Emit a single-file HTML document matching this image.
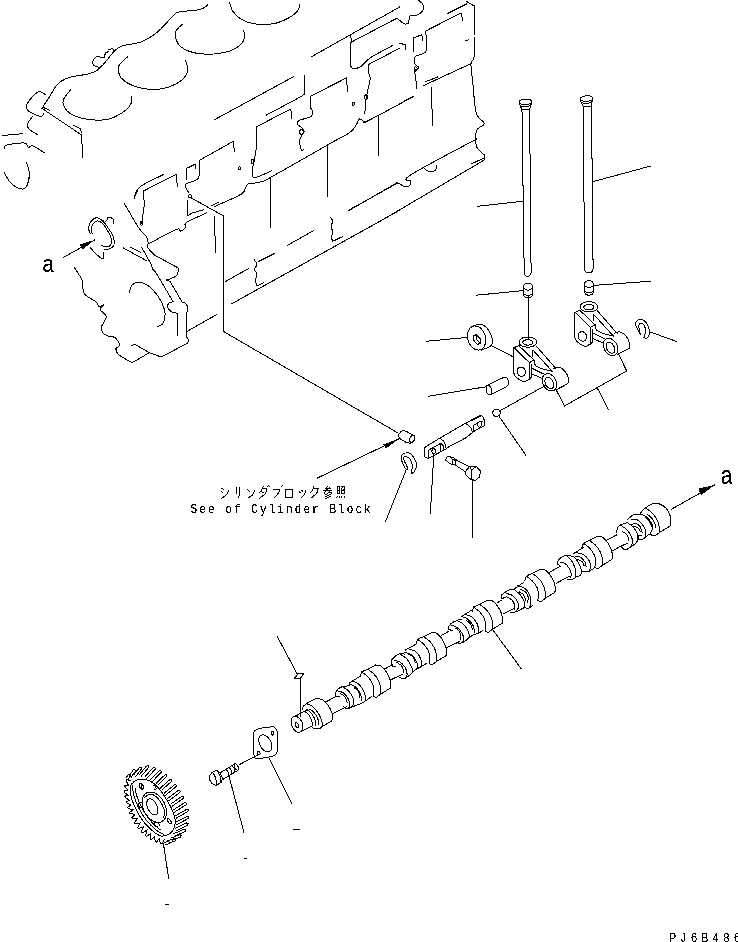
<!DOCTYPE html>
<html><head><meta charset="utf-8"><title>Camshaft parts diagram</title>
<style>
html,body{margin:0;padding:0;background:#fff;}
body{width:738px;height:942px;overflow:hidden;font-family:"Liberation Sans",sans-serif;}
svg{display:block;position:absolute;left:0;top:0;}
text{font-family:"Liberation Sans",sans-serif;fill:#000;}
.mono{font-family:"Liberation Mono",monospace;}
</style></head><body>
<svg width="738" height="942" viewBox="0 0 738 942" shape-rendering="crispEdges">
<g fill="none" stroke="#000" stroke-width="1" stroke-linecap="square" stroke-linejoin="miter">
<path d="M207.6 5 C206.3 5.8 204.8 8.3 200 9.5 C195.2 10.7 183.5 10.9 179 12 C174.5 13.1 176.7 12.6 173 16 C169.3 19.4 162.3 28.2 157 32.5 C151.7 36.8 146.8 39.8 141 42 C135.2 44.2 126.5 44.4 122 46 C117.5 47.6 117 48.5 114 51.5 C111 54.5 106.8 60.6 104 63.7 C101.2 66.8 99.9 68.3 97.5 70 C95.1 71.7 93.9 72.5 89.4 73.7 C84.9 74.9 75.2 75.9 70.5 77.2 C65.8 78.5 63.5 79.7 61 81.3 C58.5 82.9 57.3 84.2 55.5 86.7 C53.7 89.2 51.8 93.1 50 96 C48.2 98.9 46 101.9 44.7 104 C43.4 106.1 42.5 107.7 42 108.4"/>
<path d="M42 108.4 L81.6 135 L82.6 157.4"/>
<path d="M43.5 107.6 L49.7 110.2"/>
<path d="M73 125 L80.6 128.8 L81.2 132.4"/>
<path d="M104 57.5 C102.7 57.4 97.8 56.4 96 57 C94.2 57.6 93.4 59.7 93 61 C92.6 62.3 92.5 64 93.5 65 C94.5 66 97.4 67.2 99 67.2 C100.6 67.2 102.3 65.4 103 65"/>
<path d="M108.5 49.8 C109.2 49.6 111.6 48.5 112.5 48.8 C113.4 49.1 113.8 51 114 51.5"/>
<path d="M104 57.5 L105.5 53 L108.5 51.5"/>
<path d="M46 95 C44.7 94.5 41.2 90.5 38 92 C34.8 93.5 28.6 100.8 27 104 C25.4 107.2 26.2 108.9 28.5 111 C30.8 113.1 38.1 116 40.6 116.5 C43.1 117 42.9 114.2 43.4 113.8"/>
<path d="M32.5 116.5 C31.8 117.6 28.7 121 28 123 C27.3 125 26.8 126.7 28.5 128.7 C30.2 130.7 36.4 133.9 38 135"/>
<path d="M2.7 135.5 L23 133.6"/>
<path d="M4 149 C4.5 148.3 3.4 146 6.8 145 C10.2 144 20.8 142.6 24.4 143 C28 143.4 27.1 147.2 28.5 147.7 C29.9 148.2 29.8 144.9 32.5 145.8 C35.2 146.7 42.7 151.8 44.7 153"/>
<path d="M4 172 C5.1 173.8 7.9 180.2 10.8 183 C13.8 185.8 19 188.6 21.7 189 C24.4 189.4 25.7 188.2 27 185.6 C28.3 183 29.4 177.2 29.3 173.4 C29.2 169.6 27 164.4 26.5 162.6"/>
<path d="M70.5 90 C69.4 91.5 64.8 96.4 63.7 99 C62.6 101.6 62.6 103.2 63.7 105.7 C64.8 108.2 66.7 111.5 70.5 113.8 C74.3 116 80.4 118.3 86.7 119.2 C93 120.1 102.1 120.6 108.4 119.2 C114.7 117.8 120.9 113.7 124.7 111 C128.5 108.3 130.3 105.5 131.4 103 C132.5 100.5 131.1 97.2 131 96"/>
<path d="M127.4 57 C126 58.3 120.7 62.3 119.2 65 C117.8 67.7 117.8 70.3 118.7 73 C119.6 75.7 121 78.8 124.7 81.3 C128.4 83.8 135.1 86.7 141 88 C146.9 89.3 154.2 89.7 160 89 C165.8 88.3 171.7 86.2 176 84 C180.3 81.8 183.7 78.7 185.6 76 C187.5 73.3 187.5 70.3 187.5 67.8 C187.5 65.3 185.9 62.1 185.6 61"/>
<path d="M182 24.4 C181 25.5 177.1 28.7 176 31 C174.9 33.3 174.9 35.5 175.6 38 C176.3 40.5 177.7 43.8 180 46 C182.3 48.2 186.4 50.2 189.7 51.5 C193 52.8 196 53.3 200 53.7 C204 54.1 208.6 54.5 213.6 54 C218.6 53.5 225.3 52.5 229.8 51 C234.3 49.5 238.2 47.1 240.7 44.7 C243.2 42.3 244.2 39 244.7 36.6 C245.1 34.2 243.6 31.4 243.4 30.4"/>
<path d="M229.8 2.7 C230.2 4.1 230.7 8.1 232.5 10.8 C234.3 13.5 237.1 16.8 240.7 19 C244.3 21.2 248.6 23 254 23.8 C259.4 24.6 267.1 24.8 273 23.8 C278.9 22.8 285.3 19.8 289.4 17.6 C293.5 15.4 295.8 13.1 297.6 10.8 C299.4 8.5 299.6 5.1 300 4"/>
<path d="M214 120 L293.5 76.7"/>
<path d="M304.3 75.3 C304.3 78.1 305 88.4 304.3 92 C303.6 95.6 306.3 93.2 300 97 C293.7 100.8 272 112 266.4 115"/>
<path d="M311 57 L400 6.8"/>
<path d="M351.5 42 L397 18.2"/>
<path d="M350.6 35.2 L351.6 41.5"/>
<path d="M351 42 C351 46.1 349.5 62.3 351 66.5 C352.5 70.7 356.8 68.4 360 67 C363.2 65.6 364.6 61.6 370 58 C375.4 54.4 388.8 47.6 392.5 45.5"/>
<path d="M368.5 64.5 L400 48"/>
<path d="M369 64.5 C369 66.1 368.8 71.7 369 74 C369.2 76.3 370.4 76 370.2 78.6 C370 81.2 368.7 85.8 368 89.4 C367.3 93 366.5 95.9 366 100 C365.5 104.1 365 111.5 364.8 113.8"/>
<path d="M367.5 97.3 C367.4 97.5 367.4 97.7 367.3 97.9 C367.2 98.1 367.2 98.3 367.1 98.5 C367 98.6 366.9 98.8 366.7 98.9 C366.6 99.1 366.5 99.2 366.4 99.3 C366.2 99.3 366.1 99.4 366 99.4 C365.8 99.5 365.7 99.5 365.6 99.5 C365.4 99.4 365.3 99.4 365.2 99.3 C365.1 99.2 365 99.1 364.9 99 C364.8 98.9 364.7 98.7 364.6 98.6 C364.6 98.4 364.5 98.2 364.5 98 C364.5 97.8 364.5 97.6 364.5 97.4 C364.5 97.2 364.5 97 364.5 96.7 C364.6 96.5 364.6 96.3 364.7 96.1 C364.8 95.9 364.8 95.7 364.9 95.5 C365 95.4 365.1 95.2 365.3 95.1 C365.4 94.9 365.5 94.8 365.6 94.7 C365.8 94.7 365.9 94.6 366 94.6 C366.2 94.5 366.3 94.5 366.4 94.5 C366.6 94.6 366.7 94.6 366.8 94.7 C366.9 94.8 367 94.9 367.1 95 C367.2 95.1 367.3 95.3 367.4 95.4 C367.4 95.6 367.5 95.8 367.5 96 C367.5 96.2 367.5 96.4 367.5 96.6 C367.5 96.8 367.5 97 367.5 97.3Z"/>
<path d="M354.6 103.8 C354.6 103.9 354.6 104.1 354.6 104.2 C354.5 104.3 354.5 104.4 354.4 104.5 C354.4 104.7 354.3 104.8 354.2 104.9 C354.1 105 354 105 353.9 105.1 C353.9 105.2 353.7 105.2 353.6 105.2 C353.5 105.3 353.4 105.3 353.3 105.3 C353.2 105.3 353.1 105.3 353 105.2 C352.9 105.2 352.7 105.2 352.7 105.1 C352.6 105 352.5 105 352.4 104.9 C352.3 104.8 352.2 104.7 352.2 104.5 C352.1 104.4 352.1 104.3 352 104.2 C352 104.1 352 103.9 352 103.8 C352 103.7 352 103.5 352 103.4 C352.1 103.3 352.1 103.2 352.2 103 C352.2 102.9 352.3 102.8 352.4 102.7 C352.5 102.6 352.6 102.6 352.7 102.5 C352.7 102.4 352.9 102.4 353 102.4 C353.1 102.3 353.2 102.3 353.3 102.3 C353.4 102.3 353.5 102.3 353.6 102.4 C353.7 102.4 353.9 102.4 353.9 102.5 C354 102.6 354.1 102.6 354.2 102.7 C354.3 102.8 354.4 102.9 354.4 103 C354.5 103.2 354.5 103.3 354.6 103.4 C354.6 103.5 354.6 103.7 354.6 103.8Z"/>
<path d="M310.6 96.2 L346.3 78 L347.7 91"/>
<path d="M310.6 96.2 C310.6 98 310.3 104.5 310.6 107 C310.9 109.5 312.4 109.4 312.5 111 C312.6 112.6 313.2 114.9 311 116.5 C308.8 118.1 301.2 119.2 299 120.6 C296.8 122 297.6 123.6 298 124.7 C298.4 125.8 300.6 126.3 301.6 127.4 C302.7 128.5 304.3 130.1 304.3 131.4 C304.3 132.8 302.4 133.9 301.6 135.5 C300.8 137.1 299.7 138.5 299.7 141 C299.7 143.5 300.9 149.1 301.6 150.4 C302.3 151.7 303.4 149.2 303.8 149"/>
<path d="M303.5 132 C303.5 132.2 303.5 132.4 303.4 132.6 C303.4 132.9 303.3 133.1 303.2 133.2 C303.1 133.4 303 133.6 302.9 133.8 C302.8 133.9 302.6 134.1 302.5 134.2 C302.4 134.3 302.2 134.4 302 134.4 C301.9 134.5 301.7 134.5 301.5 134.5 C301.3 134.5 301.1 134.5 301 134.4 C300.8 134.4 300.6 134.3 300.5 134.2 C300.4 134.1 300.2 133.9 300.1 133.8 C300 133.6 299.9 133.4 299.8 133.2 C299.7 133.1 299.6 132.9 299.6 132.6 C299.5 132.4 299.5 132.2 299.5 132 C299.5 131.8 299.5 131.6 299.6 131.4 C299.6 131.1 299.7 130.9 299.8 130.8 C299.9 130.6 300 130.4 300.1 130.2 C300.2 130.1 300.4 129.9 300.5 129.8 C300.6 129.7 300.8 129.6 301 129.6 C301.1 129.5 301.3 129.5 301.5 129.5 C301.7 129.5 301.9 129.5 302 129.6 C302.2 129.6 302.4 129.7 302.5 129.8 C302.6 129.9 302.8 130.1 302.9 130.2 C303 130.4 303.1 130.6 303.2 130.8 C303.3 130.9 303.4 131.1 303.4 131.4 C303.5 131.6 303.5 131.8 303.5 132Z"/>
<path d="M256.4 126.8 L290.8 109 L291.6 118"/>
<path d="M256.4 126.8 C256.4 130.1 256.8 140.8 256.4 146.3 C256 151.8 254.8 156.4 254.2 160 C253.6 163.6 252.8 165.1 252.8 168 C252.8 170.9 251 177.1 254.2 177.5 C257.4 177.9 268.9 171.8 271.8 170.7"/>
<path d="M254.1 161.5 C254.1 161.7 254.1 161.9 254 162.1 C254 162.4 254 162.6 253.9 162.8 C253.8 162.9 253.8 163.1 253.7 163.3 C253.6 163.4 253.5 163.6 253.3 163.7 C253.2 163.8 253.1 163.9 253 163.9 C252.9 164 252.7 164 252.6 164 C252.5 164 252.3 164 252.2 163.9 C252.1 163.9 252 163.8 251.8 163.7 C251.7 163.6 251.6 163.4 251.5 163.3 C251.4 163.1 251.4 162.9 251.3 162.8 C251.2 162.6 251.2 162.4 251.2 162.1 C251.1 161.9 251.1 161.7 251.1 161.5 C251.1 161.3 251.1 161.1 251.2 160.9 C251.2 160.6 251.2 160.4 251.3 160.2 C251.4 160.1 251.4 159.9 251.5 159.7 C251.6 159.6 251.7 159.4 251.8 159.3 C252 159.2 252.1 159.1 252.2 159.1 C252.3 159 252.5 159 252.6 159 C252.7 159 252.9 159 253 159.1 C253.1 159.1 253.2 159.2 253.3 159.3 C253.5 159.4 253.6 159.6 253.7 159.7 C253.8 159.9 253.8 160.1 253.9 160.2 C254 160.4 254 160.6 254 160.9 C254.1 161.1 254.1 161.3 254.1 161.5Z"/>
<path d="M240.6 168.3 C240.6 168.4 240.6 168.6 240.6 168.7 C240.5 168.8 240.5 168.9 240.4 169.1 C240.4 169.2 240.3 169.3 240.2 169.4 C240.1 169.5 240 169.5 240 169.6 C239.9 169.7 239.7 169.7 239.6 169.7 C239.5 169.8 239.4 169.8 239.3 169.8 C239.2 169.8 239.1 169.8 239 169.7 C238.9 169.7 238.7 169.7 238.7 169.6 C238.6 169.5 238.5 169.5 238.4 169.4 C238.3 169.3 238.2 169.2 238.2 169.1 C238.1 168.9 238.1 168.8 238 168.7 C238 168.6 238 168.4 238 168.3 C238 168.2 238 168 238 167.9 C238.1 167.8 238.1 167.7 238.2 167.6 C238.2 167.4 238.3 167.3 238.4 167.2 C238.5 167.1 238.6 167.1 238.7 167 C238.7 166.9 238.9 166.9 239 166.9 C239.1 166.8 239.2 166.8 239.3 166.8 C239.4 166.8 239.5 166.8 239.6 166.9 C239.7 166.9 239.9 166.9 240 167 C240 167.1 240.1 167.1 240.2 167.2 C240.3 167.3 240.4 167.4 240.4 167.6 C240.5 167.7 240.5 167.8 240.6 167.9 C240.6 168 240.6 168.2 240.6 168.3Z"/>
<path d="M186.4 179.8 L186.4 168.5 L195 164.3 L195.9 168.5"/>
<path d="M200 160 L233 141.5 L234.7 151.8"/>
<path d="M199.7 160 C199.7 162.3 200.2 170.8 199.7 174.1 C199.2 177.4 199 178.2 196.8 179.8 C194.6 181.4 188.3 182.3 186.4 183.6 C184.5 184.9 185 185.8 185.5 187.4 C186 189 188.6 192.2 189.2 193.1"/>
<path d="M191.6 196.2 C191.6 196.4 191.6 196.5 191.5 196.7 C191.5 196.8 191.5 197 191.4 197.1 C191.3 197.2 191.2 197.4 191.1 197.5 C191 197.6 190.9 197.7 190.8 197.8 C190.7 197.8 190.5 197.9 190.4 197.9 C190.3 198 190.1 198 190 198 C189.9 198 189.7 198 189.6 197.9 C189.5 197.9 189.3 197.8 189.2 197.8 C189.1 197.7 189 197.6 188.9 197.5 C188.8 197.4 188.7 197.2 188.6 197.1 C188.5 197 188.5 196.8 188.5 196.7 C188.4 196.5 188.4 196.4 188.4 196.2 C188.4 196 188.4 195.9 188.5 195.7 C188.5 195.6 188.5 195.4 188.6 195.3 C188.7 195.2 188.8 195 188.9 194.9 C189 194.8 189.1 194.7 189.2 194.6 C189.3 194.6 189.5 194.5 189.6 194.5 C189.7 194.4 189.9 194.4 190 194.4 C190.1 194.4 190.3 194.4 190.4 194.5 C190.5 194.5 190.7 194.6 190.8 194.6 C190.9 194.7 191 194.8 191.1 194.9 C191.2 195 191.3 195.2 191.4 195.3 C191.5 195.4 191.5 195.6 191.5 195.7 C191.6 195.9 191.6 196 191.6 196.2Z"/>
<path d="M187.3 200.7 L187.3 215.9 L192.1 213 L203.5 209.8"/>
<path d="M134.2 198.8 C134.5 197.7 134.8 194.4 136.1 192.2 C137.4 190 137.2 188.4 141.8 185.5 C146.4 182.6 160 176.3 163.6 174.5"/>
<path d="M143.1 191.2 C143.2 192.2 143.6 195.3 143.8 197.5 C144 199.7 144.3 201.8 144.2 204.6 C144.1 207.3 143.4 211.3 143 214 C142.6 216.7 142.4 219.2 142 221 C141.6 222.8 141 223.9 140.8 224.5"/>
<path d="M143.1 191.2 L176 174.5 L177.5 186.5"/>
<path d="M142.6 223.3 C142.6 223.5 142.6 223.6 142.6 223.8 C142.5 223.9 142.5 224.1 142.4 224.2 C142.4 224.3 142.3 224.5 142.2 224.6 C142.1 224.7 142 224.8 142 224.9 C141.9 224.9 141.7 225 141.6 225 C141.5 225.1 141.4 225.1 141.3 225.1 C141.2 225.1 141.1 225.1 141 225 C140.9 225 140.7 224.9 140.7 224.9 C140.6 224.8 140.5 224.7 140.4 224.6 C140.3 224.5 140.2 224.3 140.2 224.2 C140.1 224.1 140.1 223.9 140 223.8 C140 223.6 140 223.5 140 223.3 C140 223.1 140 223 140 222.8 C140.1 222.7 140.1 222.5 140.2 222.4 C140.2 222.3 140.3 222.1 140.4 222 C140.5 221.9 140.6 221.8 140.7 221.7 C140.7 221.7 140.9 221.6 141 221.6 C141.1 221.5 141.2 221.5 141.3 221.5 C141.4 221.5 141.5 221.5 141.6 221.6 C141.7 221.6 141.9 221.7 142 221.7 C142 221.8 142.1 221.9 142.2 222 C142.3 222.1 142.4 222.3 142.4 222.4 C142.5 222.5 142.5 222.7 142.6 222.8 C142.6 223 142.6 223.1 142.6 223.3Z"/>
<path d="M149.4 243.4 C153.8 241.1 170.8 231.6 176 229.5 C181.2 227.4 179.1 231.4 180.7 231 C182.3 230.6 184.6 228.7 185.5 227.3 C186.4 225.9 182.9 224.9 186.4 222.5 C189.9 220.1 203 214.6 206.3 213"/>
<path d="M212 205.5 L218.6 202.2"/>
<path d="M214.9 206.4 C219.3 204.3 236 197.6 241.4 194 C246.8 190.4 245.2 186.4 247.1 184.6 C249 182.8 250.7 183.7 252.8 183.3 C255 182.9 257.1 183 260 182 C262.9 181 259.3 183.7 270.5 177.5 C281.7 171.3 314.3 152.4 327.4 145 C340.5 137.6 344.3 136.2 349 133 C353.7 129.8 353.9 128.3 355.6 126 C357.4 123.7 358.1 119.8 359.5 119 C360.9 118.2 362.4 121.1 363.8 121.4 C365.2 121.7 359.9 124.9 368.2 120.7 C376.5 116.5 406.1 100.5 413.7 96.4"/>
<path d="M270.5 177.5 L270.5 227.2"/>
<path d="M327.4 145 L327.4 196.6"/>
<path d="M378.6 116.8 L378.6 155.4"/>
<path d="M214.3 217 L215.6 252.5"/>
<path d="M191.5 198 L223.2 215.8 L223.2 331.3 L398 433"/>
<path d="M225.7 281.4 L248.8 268.4"/>
<path d="M258.3 261.6 L274.5 253.5"/>
<path d="M287.3 245.4 L313.8 230.5"/>
<path d="M349 210 L397.8 183"/>
<path d="M254.2 259.7 C254.7 260.5 257 262.6 257 264.3 C257 266 254.2 268.2 254.2 269.8 C254.2 271.4 256.8 272 257 273.8 C257.2 275.6 255.6 278.6 255.6 280.6 C255.6 282.6 256.8 285.1 257 286"/>
<path d="M257 286 L263.7 282.5"/>
<path d="M330 217 C330.5 217.7 332.6 219.4 332.8 221 C333 222.6 331 224.6 331 226.4 C331 228.2 332.7 230 332.8 231.8 C332.9 233.6 331.4 235.6 331.4 237.2 C331.4 238.8 332.6 240.6 332.8 241.3"/>
<path d="M332.8 241.3 L342.3 236.7"/>
<path d="M232 303.6 L400 210"/>
<path d="M186.8 331.5 L216.8 314.5"/>
<path d="M397 18.2 C397.6 18.7 399.3 20.1 400.5 21 C401.7 21.9 402.7 23.5 404 23.8 C405.3 24.1 407.6 24.1 408.5 23 C409.4 21.9 408.8 18.3 409.3 17 C409.8 15.7 410.2 15.6 411.5 15.3 C412.8 15 415.2 15.7 417 15 C418.8 14.3 421.5 12.7 422.5 11 C423.5 9.3 423.7 6.5 423 4.7 C422.3 2.9 419.2 0.8 418.5 0"/>
<path d="M447.4 13.6 L466.4 4"/>
<path d="M425.7 31 L461 13 L463 21"/>
<path d="M425.7 31 C425.8 34.2 427.2 46.2 426.5 50 C425.8 53.8 423.6 52.8 421.7 54 C419.8 55.2 416.1 55.4 415 57 C413.9 58.6 414.3 61.9 415 63.7 C415.7 65.5 419 66.7 419 67.8 C419 68.9 415.6 68.7 415 70.5 C414.4 72.3 415.4 75.7 415.7 78.6 C416 81.5 416.6 86.4 416.8 88"/>
<path d="M417.2 69 C417.2 69.2 417.2 69.4 417.1 69.6 C417.1 69.8 417.1 69.9 417 70.1 C416.9 70.3 416.9 70.4 416.8 70.6 C416.7 70.7 416.6 70.8 416.4 70.9 C416.3 71 416.2 71.1 416.1 71.1 C416 71.2 415.8 71.2 415.7 71.2 C415.6 71.2 415.4 71.2 415.3 71.1 C415.2 71.1 415.1 71 414.9 70.9 C414.8 70.8 414.7 70.7 414.6 70.6 C414.5 70.4 414.5 70.3 414.4 70.1 C414.3 69.9 414.3 69.8 414.3 69.6 C414.2 69.4 414.2 69.2 414.2 69 C414.2 68.8 414.2 68.6 414.3 68.4 C414.3 68.2 414.3 68.1 414.4 67.9 C414.5 67.7 414.5 67.6 414.6 67.4 C414.7 67.3 414.8 67.2 414.9 67.1 C415.1 67 415.2 66.9 415.3 66.9 C415.4 66.8 415.6 66.8 415.7 66.8 C415.8 66.8 416 66.8 416.1 66.9 C416.2 66.9 416.3 67 416.4 67.1 C416.6 67.2 416.7 67.3 416.8 67.4 C416.9 67.6 416.9 67.7 417 67.9 C417.1 68.1 417.1 68.2 417.1 68.4 C417.2 68.6 417.2 68.8 417.2 69Z"/>
<path d="M413.5 51.5 L413.5 38 L421.7 34.7 L423 40.6"/>
<path d="M400 43.4 L405.4 44.7 L406 50"/>
<path d="M465 41 L468.3 40"/>
<path d="M423.5 85.6 L471.2 63.5"/>
<path d="M425.6 81.7 L437.6 77"/>
<path d="M431 87 L432.8 125"/>
<path d="M400 103.5 L413.6 96.2"/>
<path d="M466.4 1.4 C467.5 2.1 471.6 3.8 473 5.4 C474.4 7 474.2 2.7 474.5 10.8 C474.8 18.9 475.1 45.2 474.5 54 C473.9 62.8 471.3 59.1 471 63.7 C470.7 68.3 471.9 74 472.7 81.7 C473.4 89.4 474.5 103.9 475.5 109.9 C476.5 115.9 477.4 115.2 478.8 117.5 C480.2 119.8 484.6 121.8 484.2 124 C483.8 126.2 477.9 126.7 476.6 130.5 C475.3 134.3 475.2 142.5 476.6 146.7 C478 150.8 483.4 153.9 484.8 155.4"/>
<path d="M484.8 155.4 L484.8 159.7 L382.3 220 L232 303.6"/>
<path d="M476.6 139 C465.6 145 421.4 167.9 410.5 175 C399.6 182.1 411.1 179.6 411 181.4 C410.9 183.2 410.8 184.8 409.8 185.7 C408.8 186.6 407.1 187.3 405 186.8 C402.9 186.3 398.8 183.2 397.5 182.5"/>
<path d="M397.5 182.5 L348.7 210.7"/>
<path d="M423.5 167.7 C424.2 168.2 426.2 170.3 427.8 171 C429.4 171.7 431.8 172.1 433.2 171.7 C434.6 171.3 435.9 169.5 436.5 168.4 C437.1 167.3 436.5 165.6 436.5 165"/>
<path d="M471.2 164 L484.8 157.6"/>
<path d="M90.2 233.3 C89.9 232.5 88.5 230.4 88.6 228.5 C88.7 226.6 89.4 223.8 90.7 222 C92 220.2 94.5 217.9 96.4 217.6 C98.3 217.3 100 218.5 102 220.3 C104 222.1 106.7 225.7 108.6 228.5 C110.5 231.3 112.6 234.7 113.5 237.4 C114.4 240.1 114.5 242.8 114 244.7 C113.5 246.6 111.8 248 110.2 248.8 C108.6 249.6 105.5 249.5 104.6 249.6"/>
<path d="M92.4 234 C92.2 233.2 91.1 231 91.2 229.3 C91.3 227.6 92.2 225.4 93.2 224 C94.2 222.6 95.7 221.2 97.2 221 C98.7 220.8 100.2 221.3 102 223 C103.8 224.7 106.2 228.3 107.8 231 C109.4 233.7 110.9 236.8 111.4 239 C111.9 241.2 111.6 242.9 111 244.2 C110.4 245.5 109.4 246.5 107.8 246.7 C106.2 246.9 102.4 245.7 101.3 245.5"/>
<path d="M102 220.3 C102.7 220.4 105.1 221.6 106.2 221 C107.3 220.4 107.4 217.2 108.6 217 C109.8 216.8 112.6 218.4 113.5 219.5 C114.4 220.6 113.9 222.9 114 223.6"/>
<path d="M90.2 247.5 C91.1 248.5 93.6 251.9 95.6 253.7 C97.6 255.5 100.7 257.9 102 258.5 C103.3 259.1 103.4 257.9 103.7 257 C104 256.1 103.7 253.5 103.7 252.8"/>
<path d="M63.9 257.2 L94.8 239.8"/>
<path d="M74.6 268 C75.8 270 80.4 275.9 82 280.2 C83.6 284.5 82 290 84.4 293.7 C86.8 297.4 94.2 300 96.6 302.2 C99 304.4 97.8 306.6 99 307 C100.2 307.4 103.8 304.2 104 304.6 C104.2 305 99.8 307.5 100.2 309.5 C100.6 311.5 106.1 313.9 106.3 316.8 C106.5 319.7 102.1 324 101.5 326.6 C100.9 329.2 101.5 331.1 102.7 332.7 C103.9 334.3 106.8 335.5 108.8 336.3 C110.8 337.1 113.1 336.2 114.9 337.6 C116.7 339 119.6 343.1 119.8 344.9 C120 346.7 116.2 346.9 116 348.5 C115.8 350.1 115.8 352.2 118.5 354.6 C121.2 357 129.8 361.4 132 362.7"/>
<path d="M132 362.7 L149.4 352.7 L134.2 344 L131 346.2"/>
<path d="M149.4 352.7 L161.3 357 L187.8 343"/>
<path d="M187.8 343 C187.9 342.4 188.7 340.8 188.4 339.7 C188.1 338.6 186.6 337 186.2 336.5"/>
<path d="M186.2 336.5 L186.2 313.7"/>
<path d="M186.2 313.7 C186.5 313 187.8 311 187.8 309.4 C187.8 307.8 187.2 305.3 186.2 304 C185.2 302.7 182.6 302.2 181.9 301.8"/>
<path d="M173.2 301.8 C172.5 302 169.8 302 168.9 302.9 C168 303.8 167.5 305.8 167.8 307.2 C168.2 308.6 169.7 310.6 171 311.5 C172.3 312.4 174.4 312.2 175.4 312.6 C176.4 313 176.8 313.5 177.1 313.7"/>
<path d="M177.1 313.7 L177.1 335.4"/>
<path d="M129.5 292.4 C129.9 291.2 130.4 286.7 132 285 C133.6 283.3 136.5 282 139.3 282.2 C142.1 282.4 145.8 283.8 149 286.3 C152.2 288.8 156.2 293.4 158.8 297.3 C161.4 301.2 163.4 306.1 164.4 309.5 C165.4 312.9 165.2 315.6 164.9 318 C164.6 320.4 163.6 322.6 162.4 324 C161.2 325.4 158.4 326.2 157.6 326.6"/>
<path d="M124.6 204 C127 208 135.3 222.7 139 228.2 C142.7 233.7 145.1 234.3 146.6 236.8 C148.1 239.3 148 241.9 148.1 243.4 C148.2 244.9 147 244.9 147.2 246 C147.4 247.1 148.1 248.3 149.4 249.8 C150.7 251.3 153.9 254.3 154.8 255.2"/>
<path d="M154.8 255.2 L178.6 268.2"/>
<path d="M178.6 268.2 C178.2 269.5 178.5 273.8 176.5 275.8 C174.5 277.8 168.3 279.4 166.7 280.1"/>
<path d="M166.7 280.1 L170 281.2 L181.9 301.8"/>
<path d="M141.8 247.6 L151.5 264.9 L152.6 269.3 L155.9 272.5 L173.2 301.8"/>
<path d="M123.4 248 L146.6 260.7"/>
<path d="M130.7 247.3 L140.5 252.2"/>
<path d="M134.4 197.3 L138 190"/>
<path d="M531.7 101.6 C531.7 101.8 531.6 102.1 531.5 102.3 C531.4 102.5 531.2 102.8 530.9 103 C530.7 103.2 530.3 103.5 530 103.6 C529.6 103.8 529.1 104 528.7 104.2 C528.2 104.3 527.7 104.4 527.2 104.5 C526.6 104.6 526.1 104.7 525.5 104.7 C525 104.7 524.4 104.7 523.9 104.7 C523.4 104.7 522.9 104.6 522.4 104.5 C521.9 104.4 521.4 104.3 521.1 104.1 C520.7 104 520.3 103.8 520 103.6 C519.7 103.4 519.5 103.2 519.4 102.9 C519.2 102.7 519.1 102.5 519.1 102.2 C519.1 102 519.2 101.7 519.3 101.5 C519.4 101.3 519.6 101 519.9 100.8 C520.1 100.6 520.5 100.3 520.8 100.2 C521.2 100 521.7 99.8 522.1 99.6 C522.6 99.5 523.1 99.4 523.6 99.3 C524.2 99.2 524.7 99.1 525.3 99.1 C525.8 99.1 526.4 99.1 526.9 99.1 C527.4 99.1 527.9 99.2 528.4 99.3 C528.9 99.4 529.4 99.5 529.7 99.7 C530.1 99.8 530.5 100 530.8 100.2 C531.1 100.4 531.3 100.6 531.4 100.9 C531.6 101.1 531.7 101.3 531.7 101.6Z"/>
<path d="M519.2 102.5 C519.3 103 519.4 104.6 520 105.3 C520.6 106 521.8 106.5 522.9 106.7 C524 106.9 525.6 107 526.9 106.7 C528.2 106.4 529.8 105.9 530.6 105.1 C531.4 104.3 531.4 102.6 531.6 102.1"/>
<path d="M520.2 105.5 L522 110"/>
<path d="M530.6 105.1 L529.6 109.4"/>
<path d="M522 110 L529.6 109.4"/>
<path d="M522 110 L524.2 272"/>
<path d="M529.6 109.4 L531.1 272"/>
<path d="M524.2 272 C524.3 272.5 524.4 274.3 525 275 C525.6 275.7 526.8 276.3 527.7 276.3 C528.5 276.3 529.7 275.7 530.3 275 C530.9 274.3 531 272.5 531.1 272"/>
<path d="M592.9 98.3 C592.9 98.5 592.8 98.8 592.7 99 C592.6 99.2 592.4 99.5 592.1 99.7 C591.9 99.9 591.5 100.2 591.2 100.3 C590.8 100.5 590.3 100.7 589.9 100.9 C589.4 101 588.9 101.1 588.4 101.2 C587.8 101.3 587.3 101.4 586.7 101.4 C586.2 101.4 585.6 101.4 585.1 101.4 C584.6 101.4 584.1 101.3 583.6 101.2 C583.1 101.1 582.6 101 582.3 100.8 C581.9 100.7 581.5 100.5 581.2 100.3 C580.9 100.1 580.7 99.9 580.6 99.6 C580.4 99.4 580.3 99.2 580.3 98.9 C580.3 98.7 580.4 98.4 580.5 98.2 C580.6 98 580.8 97.7 581.1 97.5 C581.3 97.3 581.7 97 582 96.9 C582.4 96.7 582.9 96.5 583.3 96.3 C583.8 96.2 584.3 96.1 584.8 96 C585.4 95.9 585.9 95.8 586.5 95.8 C587 95.8 587.6 95.8 588.1 95.8 C588.6 95.8 589.1 95.9 589.6 96 C590.1 96.1 590.6 96.2 590.9 96.4 C591.3 96.5 591.7 96.7 592 96.9 C592.3 97.1 592.5 97.3 592.6 97.6 C592.8 97.8 592.9 98 592.9 98.3Z"/>
<path d="M580.4 99.2 C580.5 99.7 580.6 101.3 581.2 102 C581.8 102.7 583 103.2 584.1 103.4 C585.2 103.6 586.8 103.7 588.1 103.4 C589.4 103.1 591 102.6 591.8 101.8 C592.6 101 592.6 99.3 592.8 98.8"/>
<path d="M581.4 102.2 L583.3 106.6"/>
<path d="M591.8 101.8 L591.5 106"/>
<path d="M583.3 106.6 L591.5 106"/>
<path d="M583.3 106.6 L584.5 268.5"/>
<path d="M591.5 106 L593.1 268.5"/>
<path d="M584.5 268.5 C584.6 269 584.6 270.8 585.3 271.5 C586 272.2 587.6 272.8 588.8 272.8 C590 272.8 591.6 272.2 592.3 271.5 C593 270.8 593 269 593.1 268.5"/>
<path d="M477 206.3 L523.6 201.2"/>
<path d="M592.4 181.8 L650.8 166"/>
<path d="M523.4 288 C523.6 287.4 523.6 285.3 524.4 284.5 C525.2 283.7 526.8 283.1 528 283.1 C529.2 283.1 530.8 283.7 531.6 284.5 C532.4 285.3 532.4 287.4 532.6 288"/>
<path d="M523.4 288 L523.4 295"/>
<path d="M532.6 288 L532.6 295"/>
<path d="M523.4 295 C523.7 295.3 524.2 296.5 525 297 C525.8 297.5 527 297.8 528 297.8 C529 297.8 530.2 297.5 531 297 C531.8 296.5 532.3 295.3 532.6 295"/>
<path d="M523.8 288.6 C524.5 288.9 526.6 290.2 528 290.2 C529.4 290.2 531.5 288.9 532.2 288.6"/>
<path d="M523.4 294 C524.2 294.3 526.5 295.6 528 295.6 C529.5 295.6 531.8 294.3 532.6 294"/>
<path d="M584.4 285.4 C584.6 284.8 584.6 282.7 585.4 281.9 C586.2 281.1 587.8 280.5 589 280.5 C590.2 280.5 591.8 281.1 592.6 281.9 C593.4 282.7 593.4 284.8 593.6 285.4"/>
<path d="M584.4 285.4 L584.4 292.4"/>
<path d="M593.6 285.4 L593.6 292.4"/>
<path d="M584.4 292.4 C584.7 292.7 585.2 293.9 586 294.4 C586.8 294.9 588 295.2 589 295.2 C590 295.2 591.2 294.9 592 294.4 C592.8 293.9 593.3 292.7 593.6 292.4"/>
<path d="M584.8 286 C585.5 286.3 587.6 287.6 589 287.6 C590.4 287.6 592.5 286.3 593.2 286"/>
<path d="M584.4 291.4 C585.2 291.7 587.5 293 589 293 C590.5 293 592.8 291.7 593.6 291.4"/>
<path d="M476.4 295.2 L523.2 290.6"/>
<path d="M593.8 285.4 L650.8 281.2"/>
<path d="M528.4 296.2 L528.4 338.6"/>
<path d="M485.1 335.6 C485.4 336.6 485.6 337.7 485.6 338.7 C485.7 339.8 485.7 340.8 485.6 341.8 C485.5 342.8 485.3 343.8 485 344.6 C484.7 345.5 484.3 346.3 483.8 347 C483.3 347.7 482.7 348.3 482.1 348.8 C481.4 349.3 480.7 349.6 480 349.8 C479.3 350 478.5 350.1 477.7 350 C476.9 350 476.1 349.8 475.3 349.5 C474.5 349.1 473.7 348.6 473 348.1 C472.3 347.5 471.6 346.8 471 346 C470.4 345.2 469.8 344.3 469.3 343.4 C468.8 342.5 468.4 341.4 468.1 340.4 C467.8 339.4 467.6 338.3 467.6 337.3 C467.5 336.2 467.5 335.2 467.6 334.2 C467.7 333.2 467.9 332.2 468.2 331.4 C468.5 330.5 468.9 329.7 469.4 329 C469.9 328.3 470.5 327.7 471.1 327.2 C471.8 326.7 472.5 326.4 473.2 326.2 C473.9 326 474.7 325.9 475.5 326 C476.3 326 477.1 326.2 477.9 326.5 C478.7 326.9 479.5 327.4 480.2 327.9 C480.9 328.5 481.6 329.2 482.2 330 C482.8 330.8 483.4 331.7 483.9 332.6 C484.4 333.5 484.8 334.6 485.1 335.6Z"/>
<path d="M473.6 325.9 C474.7 325.6 477.9 323.8 480 324 C482.1 324.2 484.2 325.2 486 327 C487.8 328.8 489.8 332.1 490.9 334.6 C492 337.1 492.6 340.3 492.5 342.2 C492.4 344.1 491.6 345 490.5 346 C489.4 347 486.8 348 486 348.4"/>
<path d="M486 348.4 L481.5 350"/>
<path d="M473 336.2 L476.3 334.6 L480 338.4 L480.6 343.3 L477.3 344.4 L473.6 340 L473 336.2"/>
<path d="M476.3 334.6 L476.6 339.6 L480.6 343.3"/>
<path d="M426 341.3 L467.6 337.4"/>
<path d="M491 345.4 L513.5 357"/>
<path d="M536.6 342.1 C536.6 342.5 536.5 343 536.3 343.4 C536.1 343.8 535.8 344.3 535.4 344.7 C535 345 534.6 345.4 534 345.7 C533.5 346 532.9 346.3 532.2 346.5 C531.5 346.7 530.8 346.9 530.1 347 C529.3 347.1 528.6 347.2 527.8 347.2 C527 347.2 526.3 347.1 525.5 347 C524.8 346.9 524.1 346.7 523.4 346.5 C522.7 346.3 522.1 346 521.6 345.7 C521 345.4 520.6 345 520.2 344.7 C519.8 344.3 519.5 343.8 519.3 343.4 C519.1 343 519 342.5 519 342.1 C519 341.7 519.1 341.2 519.3 340.8 C519.5 340.4 519.8 339.9 520.2 339.6 C520.6 339.2 521 338.8 521.6 338.5 C522.1 338.2 522.7 337.9 523.4 337.7 C524.1 337.5 524.8 337.3 525.5 337.2 C526.3 337.1 527 337 527.8 337 C528.6 337 529.3 337.1 530.1 337.2 C530.8 337.3 531.5 337.5 532.2 337.7 C532.9 337.9 533.5 338.2 534 338.5 C534.6 338.8 535 339.2 535.4 339.6 C535.8 339.9 536.1 340.4 536.3 340.8 C536.5 341.2 536.6 341.7 536.6 342.1Z"/>
<path d="M532.9 342.4 C532.9 342.6 532.8 342.9 532.7 343.1 C532.6 343.3 532.4 343.5 532.2 343.8 C532 344 531.7 344.1 531.4 344.3 C531.1 344.5 530.7 344.6 530.3 344.7 C530 344.9 529.5 344.9 529.1 345 C528.7 345.1 528.2 345.1 527.8 345.1 C527.4 345.1 526.9 345.1 526.5 345 C526.1 344.9 525.6 344.9 525.2 344.7 C524.9 344.6 524.5 344.5 524.2 344.3 C523.9 344.1 523.6 344 523.4 343.8 C523.2 343.5 523 343.3 522.9 343.1 C522.8 342.9 522.7 342.6 522.7 342.4 C522.7 342.2 522.8 341.9 522.9 341.7 C523 341.5 523.2 341.3 523.4 341 C523.6 340.8 523.9 340.7 524.2 340.5 C524.5 340.3 524.9 340.2 525.2 340.1 C525.6 339.9 526.1 339.9 526.5 339.8 C526.9 339.7 527.4 339.7 527.8 339.7 C528.2 339.7 528.7 339.7 529.1 339.8 C529.5 339.9 530 339.9 530.3 340.1 C530.7 340.2 531.1 340.3 531.4 340.5 C531.7 340.7 532 340.8 532.2 341 C532.4 341.3 532.6 341.5 532.7 341.7 C532.8 341.9 532.9 342.2 532.9 342.4Z"/>
<path d="M519.3 345.5 L513.6 347.8 L513.6 372.2"/>
<path d="M513.6 372.2 C513.8 372.8 514.2 374.7 515 375.8 C515.8 376.9 516.7 377.8 518.3 378.8 C519.9 379.8 522.5 381.7 524.4 381.7 C526.3 381.7 528.6 379.4 529.5 379"/>
<path d="M529.5 379.3 L529.5 362.7 L514.2 347.8"/>
<path d="M519.6 346.4 L533.9 360 L529.5 362.7"/>
<path d="M533.9 360 L534.5 360.6 L534.5 363.4"/>
<path d="M531.6 364.8 L531.6 377"/>
<path d="M529.5 379 L531.6 377"/>
<path d="M525.2 370.3 C525.3 370.7 525.4 371.1 525.4 371.5 C525.5 371.9 525.5 372.3 525.5 372.7 C525.4 373.1 525.3 373.5 525.2 373.9 C525.1 374.3 524.9 374.6 524.6 374.9 C524.4 375.2 524.2 375.5 523.9 375.7 C523.6 375.9 523.3 376.1 522.9 376.2 C522.6 376.3 522.2 376.4 521.9 376.4 C521.5 376.4 521.2 376.4 520.8 376.3 C520.4 376.2 520.1 376.1 519.7 375.9 C519.4 375.7 519.1 375.4 518.8 375.2 C518.5 374.9 518.2 374.6 518 374.2 C517.8 373.9 517.6 373.5 517.4 373.1 C517.3 372.7 517.2 372.3 517.2 371.9 C517.1 371.5 517.1 371.1 517.1 370.7 C517.2 370.3 517.3 369.9 517.4 369.5 C517.5 369.1 517.7 368.8 518 368.5 C518.2 368.2 518.4 367.9 518.7 367.7 C519 367.5 519.3 367.3 519.7 367.2 C520 367.1 520.4 367 520.7 367 C521.1 367 521.4 367 521.8 367.1 C522.2 367.2 522.5 367.3 522.9 367.5 C523.2 367.7 523.5 368 523.8 368.2 C524.1 368.5 524.4 368.8 524.6 369.2 C524.8 369.5 525 369.9 525.2 370.3Z"/>
<path d="M536.3 346.1 L556 368.7"/>
<path d="M533.2 350.4 L552.2 371.3"/>
<path d="M532.6 350 L532.6 356"/>
<path d="M534.5 363.4 C534.8 363.9 534.9 365.3 536.3 366.2 C537.7 367.1 540.3 368.1 543 369 C545.7 369.9 550.8 371 552.4 371.4"/>
<path d="M531.6 368 L543.2 373.8"/>
<path d="M531.6 373.8 L541.3 378"/>
<path d="M555.3 379.2 C555.7 379.9 556 380.7 556.2 381.4 C556.5 382.2 556.6 382.9 556.7 383.7 C556.8 384.4 556.8 385.2 556.7 385.9 C556.6 386.5 556.4 387.2 556.2 387.8 C555.9 388.4 555.6 388.9 555.2 389.3 C554.8 389.8 554.3 390.2 553.8 390.4 C553.3 390.7 552.7 390.9 552.2 390.9 C551.6 391 550.9 391 550.3 390.9 C549.7 390.8 549.1 390.5 548.4 390.2 C547.8 389.9 547.2 389.5 546.6 389 C546 388.6 545.5 388 545 387.4 C544.5 386.8 544 386.1 543.7 385.4 C543.3 384.7 543 383.9 542.8 383.2 C542.5 382.4 542.4 381.7 542.3 380.9 C542.2 380.2 542.2 379.4 542.3 378.7 C542.4 378.1 542.6 377.4 542.8 376.8 C543.1 376.2 543.4 375.7 543.8 375.3 C544.2 374.8 544.7 374.4 545.2 374.2 C545.7 373.9 546.3 373.7 546.8 373.7 C547.4 373.6 548.1 373.6 548.7 373.7 C549.3 373.8 549.9 374.1 550.6 374.4 C551.2 374.7 551.8 375.1 552.4 375.6 C553 376 553.5 376.6 554 377.2 C554.5 377.8 555 378.5 555.3 379.2Z"/>
<path d="M552.7 381.2 C552.9 381.7 553.1 382.2 553.3 382.6 C553.4 383.1 553.5 383.6 553.6 384.1 C553.7 384.6 553.7 385.1 553.7 385.5 C553.6 385.9 553.5 386.3 553.4 386.7 C553.3 387.1 553.1 387.4 552.9 387.7 C552.7 387.9 552.4 388.1 552.1 388.3 C551.8 388.5 551.5 388.5 551.2 388.6 C550.8 388.6 550.4 388.6 550.1 388.5 C549.7 388.4 549.3 388.2 548.9 388 C548.5 387.8 548.2 387.5 547.8 387.2 C547.4 386.9 547.1 386.5 546.8 386.1 C546.5 385.7 546.2 385.2 545.9 384.8 C545.7 384.3 545.5 383.8 545.3 383.4 C545.2 382.9 545.1 382.4 545 381.9 C544.9 381.4 544.9 380.9 544.9 380.5 C545 380.1 545.1 379.7 545.2 379.3 C545.3 378.9 545.5 378.6 545.7 378.3 C545.9 378.1 546.2 377.9 546.5 377.7 C546.8 377.5 547.1 377.5 547.4 377.4 C547.8 377.4 548.2 377.4 548.5 377.5 C548.9 377.6 549.3 377.8 549.7 378 C550.1 378.2 550.4 378.5 550.8 378.8 C551.2 379.1 551.5 379.5 551.8 379.9 C552.1 380.3 552.4 380.8 552.7 381.2Z"/>
<path d="M553.5 368.6 C553.9 368.4 554.6 367.8 555.6 367.6 C556.6 367.4 558 366.8 559.6 367.4 C561.2 368 563.5 369.7 565 371.5 C566.5 373.3 567.9 376.3 568.4 378.3 C568.9 380.3 567.9 382.8 567.8 383.7"/>
<path d="M567.8 383.7 L556.2 389.8"/>
<path d="M597.7 306.8 C597.7 307.2 597.6 307.7 597.4 308.1 C597.2 308.5 596.9 309 596.5 309.4 C596.1 309.7 595.7 310.1 595.1 310.4 C594.6 310.7 594 311 593.3 311.2 C592.6 311.4 591.9 311.6 591.2 311.7 C590.4 311.8 589.7 311.9 588.9 311.9 C588.1 311.9 587.4 311.8 586.6 311.7 C585.9 311.6 585.2 311.4 584.5 311.2 C583.8 311 583.2 310.7 582.7 310.4 C582.1 310.1 581.7 309.7 581.3 309.4 C580.9 309 580.6 308.5 580.4 308.1 C580.2 307.7 580.1 307.2 580.1 306.8 C580.1 306.4 580.2 305.9 580.4 305.5 C580.6 305.1 580.9 304.6 581.3 304.2 C581.7 303.9 582.1 303.5 582.7 303.2 C583.2 302.9 583.8 302.6 584.5 302.4 C585.2 302.2 585.9 302 586.6 301.9 C587.4 301.8 588.1 301.7 588.9 301.7 C589.7 301.7 590.4 301.8 591.2 301.9 C591.9 302 592.6 302.2 593.3 302.4 C594 302.6 594.6 302.9 595.1 303.2 C595.7 303.5 596.1 303.9 596.5 304.2 C596.9 304.6 597.2 305.1 597.4 305.5 C597.6 305.9 597.7 306.4 597.7 306.8Z"/>
<path d="M594 307.1 C594 307.3 593.9 307.6 593.8 307.8 C593.7 308 593.5 308.2 593.3 308.4 C593.1 308.7 592.8 308.8 592.5 309 C592.2 309.2 591.8 309.3 591.4 309.4 C591.1 309.6 590.6 309.6 590.2 309.7 C589.8 309.8 589.3 309.8 588.9 309.8 C588.5 309.8 588 309.8 587.6 309.7 C587.2 309.6 586.7 309.6 586.4 309.4 C586 309.3 585.6 309.2 585.3 309 C585 308.8 584.7 308.7 584.5 308.4 C584.3 308.2 584.1 308 584 307.8 C583.9 307.6 583.8 307.3 583.8 307.1 C583.8 306.9 583.9 306.6 584 306.4 C584.1 306.2 584.3 306 584.5 305.7 C584.7 305.5 585 305.4 585.3 305.2 C585.6 305 586 304.9 586.4 304.8 C586.7 304.6 587.2 304.6 587.6 304.5 C588 304.4 588.5 304.4 588.9 304.4 C589.3 304.4 589.8 304.4 590.2 304.5 C590.6 304.6 591.1 304.6 591.4 304.8 C591.8 304.9 592.2 305 592.5 305.2 C592.8 305.4 593.1 305.5 593.3 305.7 C593.5 306 593.7 306.2 593.8 306.4 C593.9 306.6 594 306.9 594 307.1Z"/>
<path d="M580.4 310.2 L574.7 312.5 L574.7 336.9"/>
<path d="M574.7 336.9 C574.9 337.5 575.3 339.4 576.1 340.5 C576.9 341.6 577.8 342.5 579.4 343.5 C581 344.5 583.6 346.4 585.5 346.4 C587.4 346.4 589.8 344.1 590.6 343.7"/>
<path d="M590.6 344 L590.6 327.4 L575.3 312.5"/>
<path d="M580.7 311.1 L595 324.7 L590.6 327.4"/>
<path d="M595 324.7 L595.6 325.3 L595.6 328.1"/>
<path d="M592.7 329.5 L592.7 341.7"/>
<path d="M590.6 343.7 L592.7 341.7"/>
<path d="M586.3 335 C586.4 335.4 586.5 335.8 586.5 336.2 C586.6 336.6 586.6 337 586.6 337.4 C586.5 337.8 586.4 338.2 586.3 338.6 C586.2 339 586 339.3 585.7 339.6 C585.5 339.9 585.3 340.2 585 340.4 C584.7 340.6 584.4 340.8 584 340.9 C583.7 341 583.3 341.1 583 341.1 C582.6 341.1 582.3 341.1 581.9 341 C581.5 340.9 581.2 340.8 580.8 340.6 C580.5 340.4 580.2 340.1 579.9 339.9 C579.6 339.6 579.3 339.3 579.1 338.9 C578.9 338.6 578.7 338.2 578.5 337.8 C578.4 337.4 578.3 337 578.3 336.6 C578.2 336.2 578.2 335.8 578.2 335.4 C578.3 335 578.4 334.6 578.5 334.2 C578.6 333.8 578.8 333.5 579.1 333.2 C579.3 332.9 579.5 332.6 579.8 332.4 C580.1 332.2 580.4 332 580.8 331.9 C581.1 331.8 581.5 331.7 581.8 331.7 C582.2 331.7 582.5 331.7 582.9 331.8 C583.3 331.9 583.6 332 584 332.2 C584.3 332.4 584.6 332.7 584.9 332.9 C585.2 333.2 585.5 333.5 585.7 333.9 C585.9 334.2 586.1 334.6 586.3 335Z"/>
<path d="M597.4 310.8 L617.1 333.4"/>
<path d="M594.3 315.1 L613.3 336"/>
<path d="M593.7 314.7 L593.7 320.7"/>
<path d="M595.6 328.1 C595.9 328.6 596 330 597.4 330.9 C598.8 331.8 601.4 332.8 604.1 333.7 C606.8 334.6 611.9 335.7 613.5 336.1"/>
<path d="M592.7 332.7 L604.3 338.5"/>
<path d="M592.7 338.5 L602.4 342.7"/>
<path d="M616.4 343.9 C616.8 344.6 617.1 345.4 617.3 346.1 C617.6 346.9 617.7 347.6 617.8 348.4 C617.9 349.1 617.9 349.9 617.8 350.6 C617.7 351.2 617.5 351.9 617.3 352.5 C617 353.1 616.7 353.6 616.3 354 C615.9 354.5 615.4 354.9 614.9 355.1 C614.4 355.4 613.8 355.6 613.3 355.6 C612.7 355.7 612 355.7 611.4 355.6 C610.8 355.5 610.2 355.2 609.5 354.9 C608.9 354.6 608.3 354.2 607.7 353.7 C607.1 353.3 606.6 352.7 606.1 352.1 C605.6 351.5 605.1 350.8 604.8 350.1 C604.4 349.4 604.1 348.6 603.9 347.9 C603.6 347.1 603.5 346.4 603.4 345.6 C603.3 344.9 603.3 344.1 603.4 343.4 C603.5 342.8 603.7 342.1 603.9 341.5 C604.2 340.9 604.5 340.4 604.9 340 C605.3 339.5 605.8 339.1 606.3 338.9 C606.8 338.6 607.4 338.4 607.9 338.4 C608.5 338.3 609.2 338.3 609.8 338.4 C610.4 338.5 611 338.8 611.7 339.1 C612.3 339.4 612.9 339.8 613.5 340.3 C614.1 340.7 614.6 341.3 615.1 341.9 C615.6 342.5 616.1 343.2 616.4 343.9Z"/>
<path d="M613.8 345.9 C614 346.4 614.2 346.9 614.4 347.3 C614.5 347.8 614.6 348.3 614.7 348.8 C614.8 349.3 614.8 349.8 614.8 350.2 C614.7 350.6 614.6 351 614.5 351.4 C614.4 351.8 614.2 352.1 614 352.4 C613.8 352.6 613.5 352.8 613.2 353 C612.9 353.2 612.6 353.2 612.3 353.3 C611.9 353.3 611.5 353.3 611.2 353.2 C610.8 353.1 610.4 352.9 610 352.7 C609.6 352.5 609.3 352.2 608.9 351.9 C608.5 351.6 608.2 351.2 607.9 350.8 C607.6 350.4 607.3 349.9 607 349.5 C606.8 349 606.6 348.5 606.4 348.1 C606.3 347.6 606.2 347.1 606.1 346.6 C606 346.1 606 345.6 606 345.2 C606.1 344.8 606.2 344.4 606.3 344 C606.4 343.6 606.6 343.3 606.8 343 C607 342.8 607.3 342.6 607.6 342.4 C607.9 342.2 608.2 342.2 608.5 342.1 C608.9 342.1 609.3 342.1 609.6 342.2 C610 342.3 610.4 342.5 610.8 342.7 C611.2 342.9 611.5 343.2 611.9 343.5 C612.3 343.8 612.6 344.2 612.9 344.6 C613.2 345 613.5 345.5 613.8 345.9Z"/>
<path d="M614.6 333.3 C615 333.1 615.7 332.5 616.7 332.3 C617.7 332.1 619.1 331.4 620.7 332.1 C622.3 332.7 624.6 334.4 626.1 336.2 C627.6 338 629 341 629.5 343 C630 345 629 347.5 628.9 348.4"/>
<path d="M628.9 348.4 L617.3 354.5"/>
<path d="M556.2 389.8 L564.4 406 L626.7 371 L618.5 354"/>
<path d="M597.3 388 L608.3 409.6"/>
<path d="M640.5 334.5 C639.8 333.2 637.2 328.9 636.4 327 C635.6 325.1 635.3 324.2 635.6 323 C635.9 321.8 636.9 320.6 638 320 C639.1 319.4 640.7 319.2 642 319.6 C643.3 320 644.8 321.1 646 322.6 C647.2 324.1 648.4 326.8 649 328.8 C649.6 330.8 649.8 332.9 649.4 334.5 C649 336.1 647.4 337.8 646.5 338.2 C645.6 338.6 644.3 337.4 643.9 337.2"/>
<path d="M640.5 334.5 C640.2 333.2 638.9 328.8 638.8 327 C638.7 325.2 639.2 324.4 639.8 323.8 C640.4 323.2 641.4 323 642.2 323.4 C643 323.8 644 325 644.6 326.3 C645.2 327.6 645.6 329.5 645.6 331 C645.6 332.5 644.9 334.4 644.6 335.4 C644.3 336.4 644 336.9 643.9 337.2"/>
<path d="M649.4 331.7 L676.7 341.5"/>
<path d="M486.4 386 C489.1 384.6 499.3 379.3 502.7 377.9 C506.1 376.5 505.6 377.2 506.5 377.6 C507.4 378.1 508.1 379.4 508.4 380.6 C508.7 381.8 508.6 383.5 508.2 384.6 C507.8 385.7 506.4 386.6 506 387"/>
<path d="M506 387 L491.8 394.2"/>
<path d="M491.8 394.2 C491.2 394.2 489.4 394.8 488.5 394.3 C487.6 393.8 486.6 392.8 486.2 391.4 C485.8 390 486.4 386.9 486.4 386"/>
<path d="M486.4 386 C486.9 386 488.6 385.4 489.5 386 C490.4 386.6 491.4 388 491.8 389.4 C492.2 390.8 491.8 393.4 491.8 394.2"/>
<path d="M428 396.3 L485.9 386.8"/>
<path d="M500.2 412.8 C500.2 413.1 500.2 413.4 500.1 413.8 C500 414.1 499.9 414.4 499.7 414.7 C499.5 414.9 499.3 415.2 499.1 415.4 C498.9 415.6 498.6 415.8 498.4 416 C498.1 416.2 497.8 416.3 497.5 416.4 C497.1 416.5 496.8 416.5 496.5 416.5 C496.2 416.5 495.9 416.5 495.5 416.4 C495.2 416.3 494.9 416.2 494.6 416 C494.4 415.8 494.1 415.6 493.9 415.4 C493.7 415.2 493.5 414.9 493.3 414.7 C493.1 414.4 493 414.1 492.9 413.8 C492.8 413.4 492.8 413.1 492.8 412.8 C492.8 412.5 492.8 412.2 492.9 411.8 C493 411.5 493.1 411.2 493.3 410.9 C493.5 410.7 493.7 410.4 493.9 410.2 C494.1 410 494.4 409.8 494.6 409.6 C494.9 409.4 495.2 409.3 495.5 409.2 C495.9 409.1 496.2 409.1 496.5 409.1 C496.8 409.1 497.1 409.1 497.5 409.2 C497.8 409.3 498.1 409.4 498.4 409.6 C498.6 409.8 498.9 410 499.1 410.2 C499.3 410.4 499.5 410.7 499.7 410.9 C499.9 411.2 500 411.5 500.1 411.8 C500.2 412.2 500.2 412.5 500.2 412.8Z"/>
<path d="M500.3 410.6 L545.4 385.5"/>
<path d="M498.8 416 L525.7 455"/>
<path d="M424.3 447.7 L440 438 L465.5 423.3 L480.2 415.2 L482.9 416.3 L484 419.5 L485 423.3 L484 426 L478.5 428.7 L473.1 431.9 L466.6 437.4 L447.1 447.7 L445.5 449.3 L428.1 458.5 L424.9 456.9 L424.3 447.7"/>
<path d="M428.1 458 L428.1 450.4 L440.6 443.4 L443.3 445.5 L443.3 450.4"/>
<path d="M435.3 451.2 C435.3 451.4 435.3 451.7 435.2 451.9 C435.2 452.1 435.1 452.3 435.1 452.6 C435 452.8 434.9 452.9 434.8 453.1 C434.7 453.3 434.6 453.4 434.5 453.5 C434.3 453.7 434.2 453.7 434 453.8 C433.9 453.9 433.7 453.9 433.6 453.9 C433.5 453.9 433.3 453.9 433.2 453.8 C433 453.7 432.9 453.7 432.8 453.5 C432.6 453.4 432.5 453.3 432.4 453.1 C432.3 452.9 432.2 452.8 432.1 452.6 C432.1 452.3 432 452.1 432 451.9 C431.9 451.7 431.9 451.4 431.9 451.2 C431.9 451 431.9 450.7 432 450.5 C432 450.3 432.1 450.1 432.1 449.8 C432.2 449.6 432.3 449.5 432.4 449.3 C432.5 449.1 432.6 449 432.8 448.9 C432.9 448.7 433 448.7 433.2 448.6 C433.3 448.5 433.5 448.5 433.6 448.5 C433.7 448.5 433.9 448.5 434 448.6 C434.2 448.7 434.3 448.7 434.5 448.9 C434.6 449 434.7 449.1 434.8 449.3 C434.9 449.5 435 449.6 435.1 449.8 C435.1 450.1 435.2 450.3 435.2 450.5 C435.3 450.7 435.3 451 435.3 451.2Z"/>
<path d="M440.4 444.2 L440.4 451.2"/>
<path d="M440 438 C440.7 438.7 443.4 440.6 444.4 442.3 C445.4 444 445.7 447.2 446 448.2"/>
<path d="M465.5 423.3 C466.3 423.9 469.2 425.6 470.4 427.1 C471.6 428.6 472.2 431.6 472.6 432.5"/>
<path d="M467.7 422.2 L480.7 416.3"/>
<path d="M473.6 431.4 L473.1 425.5 L480.7 421.1 L482.3 421.7"/>
<path d="M481.6 424.7 C481.5 425 481.5 425.2 481.4 425.4 C481.3 425.6 481.2 425.8 481.1 426 C481 426.2 480.8 426.4 480.7 426.5 C480.5 426.7 480.3 426.8 480.2 426.9 C480 427 479.8 427 479.7 427.1 C479.5 427.1 479.3 427.1 479.1 427.1 C479 427 478.8 427 478.6 426.9 C478.5 426.8 478.3 426.7 478.2 426.5 C478.1 426.4 478 426.2 477.9 426 C477.8 425.9 477.7 425.6 477.7 425.4 C477.6 425.2 477.6 425 477.6 424.8 C477.6 424.5 477.6 424.3 477.6 424.1 C477.7 423.8 477.7 423.6 477.8 423.4 C477.9 423.2 478 423 478.1 422.8 C478.2 422.6 478.4 422.4 478.5 422.3 C478.7 422.1 478.9 422 479 421.9 C479.2 421.8 479.4 421.8 479.5 421.7 C479.7 421.7 479.9 421.7 480.1 421.7 C480.2 421.8 480.4 421.8 480.6 421.9 C480.7 422 480.9 422.1 481 422.3 C481.1 422.4 481.2 422.6 481.3 422.8 C481.4 422.9 481.5 423.2 481.5 423.4 C481.6 423.6 481.6 423.8 481.6 424 C481.6 424.3 481.6 424.5 481.6 424.7Z"/>
<path d="M433.8 454.5 L430.3 513.8"/>
<path d="M401.3 459.8 C401.5 458.9 401 455.6 402.3 454.5 C403.6 453.4 406.9 452.3 409 453 C411.1 453.7 413.4 456.7 414.6 458.8 C415.9 460.9 416.5 463.5 416.5 465.5 C416.5 467.5 415.4 469.6 414.6 471 C413.8 472.4 412.2 473.2 411.7 473.6"/>
<path d="M401.3 459.8 C401.8 460.9 403.2 464.7 404.2 466.4 C405.1 468.1 406.5 470.2 407 470.2 C407.5 470.2 407.5 468 407 466.4 C406.5 464.8 404.7 462.3 404.2 460.7 C403.7 459.1 403.4 457.4 404.2 456.9 C405 456.4 407.6 456.9 408.9 457.9 C410.1 458.8 411.2 461 411.7 462.6 C412.2 464.2 412.1 465.6 412.1 467.4 C412.1 469.2 411.8 472.6 411.7 473.6"/>
<path d="M406 470.2 L385.6 521.4"/>
<path d="M445.5 459.8 C445.9 459.3 446.5 456.9 447.8 456.6 C449.1 456.3 451.9 457.2 453.5 457.9 C455.1 458.6 456.7 460.2 457.3 460.7"/>
<path d="M445.5 459.8 C446.2 460.4 448.2 462.8 449.7 463.6 C451.2 464.4 453.6 464.4 454.4 464.5"/>
<path d="M450 457.6 C450.1 457.6 450.3 457.6 450.4 457.7 C450.6 457.7 450.7 457.8 450.9 457.9 C451.1 458 451.2 458.2 451.4 458.3 C451.5 458.5 451.7 458.7 451.8 458.9 C452 459.1 452.1 459.3 452.2 459.5 C452.4 459.8 452.5 460 452.6 460.2 C452.6 460.5 452.7 460.7 452.8 461 C452.8 461.2 452.8 461.4 452.9 461.7 C452.9 461.9 452.9 462.1 452.8 462.3 C452.8 462.4 452.7 462.6 452.7 462.7 C452.6 462.9 452.5 463 452.4 463.1 C452.3 463.1 452.1 463.2 452 463.2"/>
<path d="M453 459 C453.1 459 453.3 459 453.4 459.1 C453.6 459.1 453.7 459.2 453.9 459.3 C454.1 459.4 454.2 459.6 454.4 459.7 C454.5 459.9 454.7 460.1 454.8 460.3 C455 460.5 455.1 460.7 455.2 460.9 C455.4 461.2 455.5 461.4 455.6 461.6 C455.6 461.9 455.7 462.1 455.8 462.4 C455.8 462.6 455.8 462.8 455.9 463.1 C455.9 463.3 455.9 463.5 455.8 463.7 C455.8 463.8 455.7 464 455.7 464.1 C455.6 464.3 455.5 464.4 455.4 464.5 C455.3 464.5 455.1 464.6 455 464.6"/>
<path d="M457.3 460.7 L468.7 466.4"/>
<path d="M454.4 464.5 L465.8 472.1"/>
<path d="M465.8 471.1 L469.6 466.4 L476.3 466.4 L480.4 471.1 L479.7 476.8 L475.3 480.6 L469.6 478.7 L465.8 474.9 L465.8 471.1"/>
<path d="M469.6 466.4 L471.5 470.2 L471.5 478.7"/>
<path d="M471.5 470.2 L476.3 466.4"/>
<path d="M472.4 479.7 L472.8 537.5"/>
<path d="M398.5 435 C399.3 434.2 400.8 430.4 403.2 430.4 C405.6 430.4 410.7 433.9 412.7 435 C414.7 436.1 414.8 436 415 437 C415.2 438 414.9 439.8 414 440.8 C413.1 441.9 412.1 443.6 409.8 443.3 C407.5 443 402.3 440.4 400.4 439 C398.5 437.6 398.8 435.7 398.5 435"/>
<path d="M414.3 439.6 C414.2 439.9 414 440.2 413.9 440.5 C413.7 440.7 413.5 441 413.3 441.2 C413.2 441.5 412.9 441.7 412.7 441.9 C412.5 442 412.3 442.2 412.1 442.3 C411.9 442.4 411.7 442.4 411.5 442.4 C411.3 442.5 411.1 442.4 410.9 442.4 C410.7 442.3 410.6 442.2 410.4 442.1 C410.3 441.9 410.1 441.7 410 441.5 C409.9 441.3 409.9 441.1 409.8 440.8 C409.8 440.5 409.8 440.2 409.8 439.9 C409.8 439.6 409.8 439.3 409.9 439 C409.9 438.7 410 438.4 410.1 438 C410.2 437.7 410.4 437.4 410.5 437.1 C410.7 436.9 410.9 436.6 411.1 436.4 C411.2 436.1 411.5 435.9 411.7 435.7 C411.9 435.6 412.1 435.4 412.3 435.3 C412.5 435.2 412.7 435.2 412.9 435.2 C413.1 435.1 413.3 435.2 413.5 435.2 C413.7 435.3 413.8 435.4 414 435.5 C414.1 435.7 414.3 435.9 414.4 436.1 C414.5 436.3 414.5 436.5 414.6 436.8 C414.6 437.1 414.6 437.4 414.6 437.7 C414.6 438 414.6 438.3 414.5 438.6 C414.5 438.9 414.4 439.2 414.3 439.6Z"/>
<path d="M398.5 435 L399.5 438.5"/>
<path d="M317 478.2 L398.5 439"/>
<path d="M671.5 509.2 L714.4 485"/>
<path d="M639.7 514.2 C640.6 513.2 642.6 509.9 645 508.1 C647.4 506.3 651.6 504 653.9 503.3 C656.2 502.6 656.8 502.9 658.8 503.7 C660.8 504.5 664.2 506.2 666.1 508.1 C668 510.1 669.2 512.9 670 515.4 C670.8 517.9 670.9 521.2 670.9 523 C670.9 524.8 670.1 525.5 670 526"/>
<path d="M645 508.1 C646 508.7 649 509.9 650.7 511.4 C652.5 512.9 654.1 514.9 655.5 517.1 C656.9 519.3 658.1 521.8 658.8 524.4 C659.5 527 659.5 531.1 659.6 532.5"/>
<path d="M670 526 C668.3 527.1 662 530.9 659.6 532.5 C657.2 534.1 656.7 534.9 655.5 535.4 C654.3 535.9 653.2 535.7 652.3 535.4 C651.4 535.1 650.6 534 650.2 533.7"/>
<path d="M639.7 514.6 C640.4 514.7 642.6 514.6 644.1 515.4 C645.6 516.2 647.6 517.9 649 519.5 C650.4 521.1 651.8 523.6 652.3 525.2 C652.8 526.8 652.6 527.9 652.3 529.3 C651.9 530.7 650.6 533 650.2 533.7"/>
<path d="M645.8 517.5 C646.5 518.2 648.8 520.5 649.8 522 C650.8 523.5 651.5 526 651.9 526.8"/>
<path d="M647.2 514.4 C648 515 650.5 516.6 651.8 518.2 C653.1 519.8 654.4 522.4 655 524 C655.6 525.6 655.3 527.3 655.4 528"/>
<path d="M627.1 519.9 C628.1 519.1 631.1 515.8 633.2 515 C635.3 514.2 638.6 515 639.7 515"/>
<path d="M631.5 519.1 C632.4 519.2 635.1 518.8 636.8 519.5 C638.5 520.2 640.3 522 641.7 523.6 C643.1 525.2 644.3 527.5 645 529.3 C645.7 531 645.7 532.9 645.8 534.1 C645.9 535.3 645.5 536.2 645.4 536.6"/>
<path d="M632 524.4 C632.7 524.3 634.6 523.2 636 523.6 C637.4 524 639.1 525.3 640.1 526.8 C641.1 528.3 641.8 531.5 642.1 532.5"/>
<path d="M633.5 526.5 C634.2 526.7 636.4 526.7 637.6 527.6 C638.8 528.5 640 531 640.5 531.7"/>
<path d="M650.2 533.7 C649.4 534.2 646.7 536 645.4 537 C644.1 538 643.6 539 642.5 539.4 C641.4 539.8 639.2 539.4 638.5 539.4"/>
<path d="M638.5 539.4 L638.5 535.8 L641.3 535.4"/>
<path d="M618.1 526.8 C618.5 526.5 619.1 525.9 620.6 525.2 C622.1 524.5 626 522.9 627.1 522.4"/>
<path d="M627.1 522.4 C628 523.1 631.2 525.1 632.8 526.8 C634.4 528.5 635.9 530.6 636.8 532.5 C637.7 534.4 638.1 536.4 638 538.2 C637.9 540 637.1 541.8 636 543.1 C634.9 544.5 632.2 545.8 631.5 546.3"/>
<path d="M620.6 525.2 C621.5 525.9 624.6 527.7 626.3 529.3 C628 530.9 629.7 533.1 630.7 535 C631.7 536.9 632.3 538.8 632.4 540.7 C632.5 542.6 631.6 545.4 631.5 546.3"/>
<path d="M622.2 531.3 C622.9 531.8 625.2 533 626.3 534.1 C627.4 535.2 628.3 537.1 628.7 538.2 C629.1 539.3 628.7 540.3 628.7 540.7"/>
<path d="M616.5 532.1 L618.1 526.8"/>
<path d="M631.5 546.3 C630.8 546.8 628.4 548.7 627.1 549.2 C625.8 549.7 624.8 549.6 623.8 549.2 C622.8 548.8 621.8 547.1 621.4 546.7"/>
<path d="M607.1 540.1 L616.5 535"/>
<path d="M612.5 550.9 L620.6 546.3 L627.9 543.1"/>
<path d="M589.5 540.5 L597.6 536.2"/>
<path d="M597.6 536.2 C598.4 536.4 600.7 536.2 602.3 537.1 C603.9 538 605.6 539.8 607.1 541.8 C608.6 543.8 610.2 546.9 611.1 549.3 C612 551.7 612.4 554.4 612.5 556.1 C612.6 557.8 611.9 558.9 611.8 559.5"/>
<path d="M611.8 559.5 L602.3 565.3"/>
<path d="M589.5 540.5 C590.5 541.3 593.8 543.3 595.6 545.2 C597.4 547.1 599.2 549.7 600.3 552 C601.4 554.3 602 556.6 602.3 558.8 C602.6 561 602.3 564.2 602.3 565.3"/>
<path d="M583.4 543.2 C584.4 544 587.7 546.1 589.5 548 C591.3 549.9 593.2 552.5 594.2 554.7 C595.2 557 595.5 559.5 595.6 561.5 C595.7 563.5 595 566 594.9 566.9"/>
<path d="M582 547.3 C582.3 546.6 582.8 544.1 584 543 C585.2 541.9 588.6 540.9 589.5 540.5"/>
<path d="M602.3 565.3 C601.6 565.8 599.5 567.9 598.3 568.3 C597.1 568.7 595.5 567.7 594.9 567.6"/>
<path d="M532.4 573.5 L540.5 569.2"/>
<path d="M540.5 569.2 C541.3 569.4 543.6 569.2 545.2 570.1 C546.8 571 548.5 572.8 550 574.8 C551.5 576.8 553.1 579.9 554 582.3 C554.9 584.7 555.3 587.4 555.4 589.1 C555.5 590.8 554.8 591.9 554.7 592.5"/>
<path d="M554.7 592.5 L545.2 598.3"/>
<path d="M532.4 573.5 C533.4 574.3 536.7 576.3 538.5 578.2 C540.3 580.1 542.1 582.7 543.2 585 C544.3 587.3 544.9 589.6 545.2 591.8 C545.5 594 545.2 597.2 545.2 598.3"/>
<path d="M526.3 576.2 C527.3 577 530.6 579.1 532.4 581 C534.2 582.9 536.1 585.5 537.1 587.7 C538.1 590 538.4 592.5 538.5 594.5 C538.6 596.5 537.9 599 537.8 599.9"/>
<path d="M524.9 580.3 C525.2 579.6 525.6 577.1 526.9 576 C528.1 574.9 531.5 573.9 532.4 573.5"/>
<path d="M545.2 598.3 C544.5 598.8 542.4 600.9 541.2 601.3 C540 601.7 538.4 600.7 537.8 600.6"/>
<path d="M479.7 604.4 L487.8 600.1"/>
<path d="M487.8 600.1 C488.6 600.2 490.9 600.1 492.5 601 C494.1 601.9 495.8 603.7 497.3 605.7 C498.8 607.7 500.4 610.8 501.3 613.2 C502.2 615.6 502.6 618.3 502.7 620 C502.8 621.7 502.1 622.8 502 623.4"/>
<path d="M502 623.4 L492.5 629.2"/>
<path d="M479.7 604.4 C480.7 605.2 484 607.2 485.8 609.1 C487.6 611 489.4 613.6 490.5 615.9 C491.6 618.2 492.2 620.5 492.5 622.7 C492.8 624.9 492.5 628.1 492.5 629.2"/>
<path d="M473.6 607.1 C474.6 607.9 477.9 610 479.7 611.9 C481.5 613.8 483.4 616.4 484.4 618.6 C485.4 620.9 485.7 623.4 485.8 625.4 C485.9 627.4 485.2 629.9 485.1 630.8"/>
<path d="M472.2 611.2 C472.5 610.5 472.9 608 474.2 606.9 C475.4 605.8 478.8 604.8 479.7 604.4"/>
<path d="M492.5 629.2 C491.8 629.7 489.7 631.8 488.5 632.2 C487.3 632.6 485.7 631.6 485.1 631.5"/>
<path d="M423.7 636.7 L431.8 632.4"/>
<path d="M431.8 632.4 C432.6 632.5 434.9 632.4 436.5 633.3 C438.1 634.2 439.8 636 441.3 638 C442.8 640 444.4 643.1 445.3 645.5 C446.2 647.9 446.6 650.6 446.7 652.3 C446.8 654 446.1 655.1 446 655.7"/>
<path d="M446 655.7 L436.5 661.5"/>
<path d="M423.7 636.7 C424.7 637.5 428 639.5 429.8 641.4 C431.6 643.3 433.4 645.9 434.5 648.2 C435.6 650.5 436.2 652.8 436.5 655 C436.8 657.2 436.5 660.4 436.5 661.5"/>
<path d="M417.6 639.4 C418.6 640.2 421.9 642.3 423.7 644.2 C425.5 646.1 427.4 648.6 428.4 650.9 C429.4 653.1 429.7 655.7 429.8 657.7 C429.9 659.7 429.2 662.2 429.1 663.1"/>
<path d="M416.2 643.5 C416.5 642.8 416.9 640.3 418.2 639.2 C419.4 638.1 422.8 637.1 423.7 636.7"/>
<path d="M436.5 661.5 C435.8 662 433.7 664.1 432.5 664.5 C431.3 664.9 429.7 663.9 429.1 663.8"/>
<path d="M367.8 669.3 L375.9 665"/>
<path d="M375.9 665 C376.7 665.1 379 665 380.6 665.9 C382.2 666.8 383.9 668.6 385.4 670.6 C386.9 672.6 388.5 675.7 389.4 678.1 C390.3 680.5 390.7 683.2 390.8 684.9 C390.9 686.6 390.2 687.7 390.1 688.3"/>
<path d="M390.1 688.3 L380.6 694.1"/>
<path d="M367.8 669.3 C368.8 670.1 372.1 672.1 373.9 674 C375.7 675.9 377.5 678.5 378.6 680.8 C379.7 683.1 380.3 685.4 380.6 687.6 C380.9 689.8 380.6 693 380.6 694.1"/>
<path d="M361.7 672 C362.7 672.8 366 674.9 367.8 676.8 C369.6 678.7 371.5 681.2 372.5 683.5 C373.5 685.8 373.8 688.3 373.9 690.3 C374 692.3 373.3 694.8 373.2 695.7"/>
<path d="M360.3 676.1 C360.6 675.4 361 672.9 362.3 671.8 C363.5 670.7 366.9 669.7 367.8 669.3"/>
<path d="M380.6 694.1 C379.9 694.6 377.8 696.7 376.6 697.1 C375.4 697.5 373.8 696.5 373.2 696.4"/>
<path d="M573.9 553.4 C574.8 552.8 577.7 551 579.3 550 C580.9 549 582.7 547.8 583.4 547.3"/>
<path d="M576.6 552.7 C577.7 553 581.4 553.5 583.4 554.7 C585.4 555.9 587.6 558.1 588.8 560.1 C590 562.1 590.7 565.2 590.8 566.9 C590.9 568.6 589.7 569.7 589.5 570.3"/>
<path d="M575.5 556.1 C576.4 556.3 579.1 556.3 580.7 557.4 C582.4 558.5 584.5 561.2 585.4 562.8 C586.3 564.4 586 566.2 586.1 566.9"/>
<path d="M577.3 559.5 C578.1 559.8 580.9 560.5 582 561.5 C583.1 562.5 583.7 564.9 584 565.6"/>
<path d="M594.9 567.6 C594 568.2 591.2 570.3 589.5 571 C587.8 571.7 586 571.7 584.7 571.7 C583.5 571.7 582.5 571.1 582 571"/>
<path d="M557.6 561.5 C558 560.9 558.8 559.1 560.3 558.1 C561.8 557.1 564.1 555.6 566.4 555.4 C568.7 555.2 572.6 556.5 573.9 556.7"/>
<path d="M573.9 556.7 C574.7 557.7 577.4 560.6 578.6 562.8 C579.8 564.9 580.9 567.6 581.3 569.6 C581.6 571.6 581.6 573.8 580.7 575 C579.8 576.2 576.7 576.8 575.9 577.1"/>
<path d="M566.4 555.4 C567.2 556.2 569.8 558.2 571.2 560.1 C572.6 562 573.8 564.8 574.6 566.9 C575.4 569 575.7 571.3 575.9 573 C576.1 574.7 575.9 576.4 575.9 577.1"/>
<path d="M560.3 562.8 C561.1 562.9 563.6 562.6 565.1 563.5 C566.6 564.4 568.1 566.6 569.1 568.3 C570.1 570 571 572.1 571.2 573.7 C571.4 575.3 570.6 577.1 570.5 577.8"/>
<path d="M575.9 577.1 C575.2 577.5 573.3 579.5 571.8 579.8 C570.3 580.1 567.9 579.2 567.1 579.1"/>
<path d="M557.6 561.5 L557.6 564.2 L560.3 566.2"/>
<path d="M514.7 588.6 L523.5 582.5"/>
<path d="M517.4 585.9 C518.5 586.2 522.2 586.4 524.2 587.9 C526.2 589.4 528.5 592.4 529.6 594.7 C530.7 597 531 599.5 531 601.5 C531 603.5 529.8 606 529.6 606.9"/>
<path d="M520.8 589.3 C521.6 589.8 524.4 590.6 525.6 592 C526.9 593.4 528 595.7 528.3 597.4 C528.6 599.1 527.7 601.4 527.6 602.2"/>
<path d="M519.5 592 C520.2 592.5 522.5 593.4 523.5 594.7 C524.5 596.1 525.2 599.2 525.6 600.1"/>
<path d="M532.3 605.6 C531.6 606 529.6 608 528.3 608.3 C526.9 608.6 524.9 607.7 524.2 607.6"/>
<path d="M501.8 594.7 C503.1 593.9 507.1 590.5 509.3 589.7 C511.5 588.9 513.8 590 514.7 590"/>
<path d="M514.7 590 C515.6 590.8 518.5 592.8 520.1 594.7 C521.7 596.6 523.5 599.4 524.2 601.5 C524.9 603.6 524.2 606.6 524.2 607.6"/>
<path d="M506.6 593.4 C507.7 593.9 511.5 594.5 513.4 596.1 C515.3 597.7 517.3 600.8 518.1 602.8 C518.9 604.8 518.4 606.9 518.1 608.3 C517.8 609.7 516.4 610.5 516.1 611"/>
<path d="M501.8 594.7 L501.8 598.8 L506.6 596.7"/>
<path d="M506.6 596.7 C507.5 597.3 510.6 598.6 512 600.1 C513.4 601.6 514.4 604 514.7 605.6 C515 607.2 514.1 608.9 514 609.6"/>
<path d="M524.2 607.6 C522.9 608.3 518.4 610.9 516.1 611.7 C513.9 612.5 511.6 612.2 510.7 612.3"/>
<path d="M461.7 616.4 L472.5 609.6"/>
<path d="M465 614.4 C466.1 614.9 469.8 615.5 471.8 617.1 C473.8 618.7 476.1 621.6 477.2 623.9 C478.3 626.2 478.5 629.1 478.6 630.7 C478.7 632.3 478 633 477.9 633.4"/>
<path d="M461.7 616.4 C462.7 616.9 465.9 617.5 467.8 619.1 C469.7 620.7 472.1 623.6 473.2 625.9 C474.3 628.2 474.3 631.6 474.5 632.7"/>
<path d="M466.4 620.5 C467.1 621.1 469.5 622.4 470.5 623.9 C471.5 625.4 472.2 628.4 472.5 629.3"/>
<path d="M482.7 630.7 C481.9 631.2 479.5 632.7 477.9 633.4 C476.3 634.1 474 634.5 473.2 634.7"/>
<path d="M448.8 626.6 C449.2 626 450.1 624.2 451.5 623.2 C452.9 622.2 455.2 621.2 456.9 620.5 C458.6 619.8 460.9 619.3 461.7 619.1"/>
<path d="M456.9 620.5 C457.9 621.1 461.2 622.2 463 623.9 C464.8 625.6 466.8 628.6 467.8 630.7 C468.8 632.9 469.7 635 469.1 636.8 C468.5 638.6 465.2 640.7 464.4 641.5"/>
<path d="M451.5 625.2 C452.4 625.6 455.2 626 456.9 627.3 C458.6 628.5 460.6 630.8 461.7 632.7 C462.8 634.6 463.6 637.2 463.7 638.8 C463.8 640.4 462.5 641.6 462.3 642.2"/>
<path d="M448.8 626.6 L448.8 629.3 L452.2 630.7"/>
<path d="M454.9 627.9 C455.6 628.4 457.9 629.3 458.9 630.7 C459.9 632.1 460.8 634.6 461 636.1 C461.2 637.6 460.4 638.9 460.3 639.5"/>
<path d="M473.2 634.7 C471.7 635.8 466.7 640 464.4 641.5 C462.1 643 460.9 643.4 459.6 643.5 C458.4 643.6 457.3 642.4 456.9 642.2"/>
<path d="M405 650.3 L415.9 644.2"/>
<path d="M409.1 649 C410.2 649.5 414 650.1 415.9 651.7 C417.8 653.3 419.6 656.2 420.6 658.5 C421.6 660.8 422 663.8 422 665.2 C422 666.6 421 666.7 420.8 667"/>
<path d="M405 652.4 C406.1 652.9 409.9 653.5 411.8 655.1 C413.7 656.7 415.6 659.7 416.6 661.8 C417.6 663.9 417.7 666.9 417.9 667.9"/>
<path d="M409.1 654.4 C409.8 654.9 412.2 655.8 413.2 657.1 C414.2 658.5 414.9 661.6 415.2 662.5"/>
<path d="M426.7 663.2 C425.8 663.8 423.1 665.6 421.3 666.6 C419.5 667.6 416.8 668.8 415.9 669.3"/>
<path d="M391.5 662.5 C391.6 661.9 390.8 660.6 392.2 659.1 C393.6 657.6 397.5 654.5 399.6 653.7 C401.7 652.9 404.1 654.3 405 654.4"/>
<path d="M399.6 653.7 C400.7 654.5 404.5 656.5 406.4 658.5 C408.3 660.5 410.1 663.6 411.1 665.9 C412.1 668.1 413.1 670.2 412.5 672 C411.9 673.8 408.6 675.9 407.8 676.7"/>
<path d="M394.2 660.5 C395.1 660.7 397.8 660.7 399.6 661.8 C401.4 662.9 403.8 665.3 405 667.3 C406.2 669.3 407 672.3 407.1 674 C407.2 675.7 405.9 676.8 405.7 677.4"/>
<path d="M396.9 662.5 C397.7 663.1 400.6 664.3 401.7 665.9 C402.8 667.5 403.4 671 403.7 672"/>
<path d="M391.5 662.5 L392.2 666 L395.5 666"/>
<path d="M415.9 669.3 C414.5 670.5 409.8 675.1 407.8 676.7 C405.8 678.3 405.1 678.7 403.7 678.8 C402.3 678.9 400.3 677.6 399.6 677.4"/>
<path d="M349.1 683.2 L359.9 676.4"/>
<path d="M353.2 681.2 C354.3 681.9 358 683.2 359.9 685.2 C361.8 687.2 363.8 690.9 364.7 693.4 C365.6 695.9 365.7 698.5 365.4 700.1 C365.1 701.7 363.1 702.3 362.7 702.8"/>
<path d="M349.1 683.9 C350.2 684.5 354 685.6 355.9 687.3 C357.8 689 359.7 691.8 360.6 694 C361.5 696.2 361.2 699.7 361.3 700.8"/>
<path d="M354.5 687.9 C355.2 688.6 357.7 690.4 358.6 692 C359.5 693.6 359.7 696.5 359.9 697.4"/>
<path d="M372.1 696 C370.5 697.1 365.4 701.2 362.7 702.8 C360 704.4 357.9 704.7 355.9 705.5 C353.9 706.3 351.4 707.2 350.5 707.6"/>
<path d="M335.6 693.4 C335.8 692.8 335.8 691.1 336.9 690 C338 688.9 340.3 687.3 342.3 686.6 C344.3 685.9 348 686 349.1 685.9"/>
<path d="M342.3 686.6 C343.3 687.3 346.6 688.8 348.4 690.7 C350.2 692.6 352.3 696 353.2 698.1 C354.1 700.2 354.2 701.9 353.8 703.5 C353.4 705.1 351.1 706.9 350.5 707.6"/>
<path d="M336.9 690.7 C337.9 691 341.2 691.5 343 692.7 C344.8 693.9 346.7 696.2 347.8 698.1 C348.9 700 349.7 702.5 349.8 704.2 C349.9 705.9 348.6 707.6 348.4 708.3"/>
<path d="M335.6 693.4 L336.2 696.7 L339.6 696"/>
<path d="M340.3 693.4 C341.1 694 343.9 695.2 345 696.7 C346.1 698.2 346.8 701.3 347.1 702.2"/>
<path d="M350.5 707.6 C349.8 707.8 347.5 709 346.4 708.9 C345.3 708.8 344.1 707.2 343.7 706.9"/>
<path d="M549.5 572.3 L560.3 566.2"/>
<path d="M556.3 583.2 L569.1 576.4"/>
<path d="M497.1 602.8 L501.8 600.1"/>
<path d="M503.2 614 L514.7 608.3"/>
<path d="M441.3 635.4 L448.8 631.3"/>
<path d="M446.7 647.6 L459.6 641.5"/>
<path d="M384 669.3 L392.2 665"/>
<path d="M390.1 680.1 L403 674"/>
<path d="M326.7 701.5 L335.6 696.7"/>
<path d="M333.5 713.4 L346.4 706.9"/>
<path d="M306.4 703.5 L315.9 698.5"/>
<path d="M315.9 698.5 C316.9 698.7 320.1 698.5 322 699.5 C323.9 700.5 325.8 702.2 327.4 704.2 C329 706.2 330.6 709.4 331.5 711.7 C332.4 714 332.8 716.2 332.8 717.8 C332.8 719.4 331.7 720.5 331.5 721.1"/>
<path d="M331.5 721.1 L322 726.6"/>
<path d="M306.4 703.5 C307.5 704.1 311.2 705.2 313.2 706.9 C315.2 708.6 317.1 711.2 318.6 713.7 C320.1 716.2 321.4 719.6 322 721.8 C322.6 723.9 322 725.8 322 726.6"/>
<path d="M302.4 709 C302.5 708.6 302.5 707.4 303.2 706.5 C303.9 705.6 305.9 704 306.4 703.5"/>
<path d="M322 726.6 C321.6 726.9 320.7 728.3 319.3 728.6 C317.9 728.9 315.1 728.9 313.9 728.6 C312.6 728.3 312.1 726.9 311.8 726.6"/>
<path d="M307.1 709.6 C307.9 710.3 310.5 711.9 311.8 713.7 C313.1 715.5 314.6 718.6 315.2 720.5 C315.8 722.4 315.4 724.4 315.5 725.2"/>
<path d="M309.1 708.9 C309.9 709.5 312.4 710.6 313.9 712.3 C315.4 714 317.1 717.1 317.9 719.1 C318.7 721.1 318.5 723.6 318.6 724.5"/>
<path d="M304.5 711.2 C305.2 711.8 307.3 713 308.5 714.5 C309.7 716 310.8 718.1 311.5 720 C312.2 721.9 312.3 724.9 312.5 725.9"/>
<path d="M294.9 716.4 L302.4 712.3 L307.1 709.6"/>
<path d="M300.3 732 L312.5 725.9"/>
<path d="M300.1 732 C299.7 732.2 299.2 732.3 298.7 732.3 C298.2 732.3 297.7 732.2 297.2 732 C296.7 731.8 296.2 731.5 295.7 731.2 C295.2 730.8 294.7 730.4 294.2 729.9 C293.8 729.4 293.3 728.8 293 728.2 C292.6 727.6 292.3 727 292 726.3 C291.7 725.7 291.5 724.9 291.4 724.3 C291.2 723.6 291.1 722.9 291.1 722.2 C291.1 721.5 291.1 720.9 291.3 720.3 C291.4 719.7 291.6 719.1 291.8 718.6 C292 718.2 292.4 717.7 292.7 717.4 C293 717 293.5 716.8 293.9 716.6 C294.3 716.4 294.8 716.3 295.3 716.3 C295.8 716.3 296.3 716.4 296.8 716.6 C297.3 716.8 297.8 717.1 298.3 717.4 C298.8 717.8 299.3 718.2 299.8 718.7 C300.2 719.2 300.7 719.8 301 720.4 C301.4 721 301.7 721.6 302 722.3 C302.3 722.9 302.5 723.7 302.6 724.3 C302.8 725 302.9 725.7 302.9 726.4 C302.9 727.1 302.9 727.7 302.7 728.3 C302.6 728.9 302.4 729.5 302.2 730 C302 730.4 301.6 730.9 301.3 731.2 C301 731.6 300.5 731.8 300.1 732Z"/>
<path d="M298 727.7 C297.9 727.8 297.8 727.8 297.6 727.8 C297.5 727.8 297.3 727.7 297.2 727.6 C297 727.6 296.9 727.5 296.7 727.4 C296.6 727.2 296.4 727.1 296.3 726.9 C296.2 726.8 296 726.6 295.9 726.4 C295.8 726.2 295.7 726 295.6 725.8 C295.5 725.5 295.4 725.3 295.4 725.1 C295.3 724.9 295.3 724.6 295.3 724.4 C295.3 724.2 295.3 724 295.3 723.8 C295.3 723.6 295.4 723.5 295.4 723.3 C295.5 723.2 295.6 723 295.7 722.9 C295.8 722.8 295.9 722.7 296 722.7 C296.1 722.6 296.2 722.6 296.4 722.6 C296.5 722.6 296.7 722.7 296.8 722.8 C297 722.8 297.1 722.9 297.3 723 C297.4 723.2 297.6 723.3 297.7 723.5 C297.8 723.6 298 723.8 298.1 724 C298.2 724.2 298.3 724.4 298.4 724.6 C298.5 724.9 298.6 725.1 298.6 725.3 C298.7 725.5 298.7 725.8 298.7 726 C298.7 726.2 298.7 726.4 298.7 726.6 C298.7 726.8 298.6 726.9 298.6 727.1 C298.5 727.2 298.4 727.4 298.3 727.5 C298.2 727.6 298.1 727.7 298 727.7Z"/>
<path d="M294.9 677.8 L298.3 673.7 L303.7 673.3 L300.3 678.5 L294.9 678.7 L294.9 677.8"/>
<path d="M296.9 673.3 L277.5 637"/>
<path d="M300.3 678.7 L300.3 716.4"/>
<path d="M492.6 629.5 L521 668.5"/>
<path d="M131.6 784.5 C132 784.2 133.2 782.1 134.5 781.2 C135.8 780.4 137.7 779.7 139.4 779.4 C141.2 779.1 143.2 779.3 145 779.6 C146.8 779.9 148.3 780 150.4 781.2 C152.5 782.4 155.3 784.5 157.5 786.8 C159.7 789.1 161.8 792.2 163.8 795.2 C165.8 798.2 167.9 801.5 169.5 804.5 C171.1 807.5 172.6 810.9 173.5 813.5 C174.4 816.1 175 818 175.2 820 C175.4 822 175.2 823.9 174.8 825.7 C174.4 827.5 173.5 829.4 172.5 830.8 C171.5 832.2 170.6 833.4 168.7 834.3 C166.8 835.2 163.6 836.3 161.3 836.1 C159.1 835.9 157.3 834.5 155.2 833 C153.1 831.5 150.8 829.4 148.8 827.4 C146.8 825.4 144.7 823.2 143 820.9 C141.3 818.6 139.8 816.2 138.4 813.8 C137 811.3 135.6 808.8 134.5 806.2 C133.4 803.7 132.3 800.9 131.6 798.5 C130.9 796.1 130.4 793.5 130.2 791.6 C130 789.7 130.1 788.4 130.4 787 C130.7 785.6 131.9 783.4 132.1 783 C132.3 782.6 131.2 784.8 131.6 784.5Z"/>
<path d="M130.3 776.1 L128.1 779.5"/>
<path d="M128.2 774.8 L126 778.1"/>
<path d="M130.3 776.1 C130.2 775.8 130.2 774.7 129.9 774.4 C129.5 774.2 128.5 774.7 128.2 774.8"/>
<path d="M135.3 771.4 L131.2 777.1"/>
<path d="M133.2 770 L129.2 775.7"/>
<path d="M135.3 771.4 C135.2 771.2 135.3 770 135 769.7 C134.6 769.5 133.5 770 133.2 770"/>
<path d="M141.6 768.8 L135.8 776.3"/>
<path d="M139.6 767.3 L133.8 774.8"/>
<path d="M141.6 768.8 C141.6 768.5 141.7 767.4 141.4 767.1 C141 766.8 139.9 767.3 139.6 767.3"/>
<path d="M148.4 767.7 L141.3 776.1"/>
<path d="M146.4 766.1 L139.4 774.5"/>
<path d="M148.4 767.7 C148.3 767.4 148.5 766.2 148.2 765.9 C147.8 765.7 146.7 766 146.4 766.1"/>
<path d="M155 769.4 L146.6 778.7"/>
<path d="M153.1 767.7 L144.8 777"/>
<path d="M155 769.4 C155 769.1 155.2 768 154.9 767.7 C154.5 767.4 153.4 767.7 153.1 767.7"/>
<path d="M161.1 772.5 L152.7 781.1"/>
<path d="M159.3 770.8 L150.6 779.7"/>
<path d="M161.1 772.5 C161.1 772.2 161.4 771.1 161.1 770.8 C160.8 770.5 159.6 770.8 159.3 770.8"/>
<path d="M166.5 776.8 L157.8 785"/>
<path d="M164.8 775 L156.1 783.2"/>
<path d="M166.5 776.8 C166.5 776.5 166.8 775.3 166.5 775 C166.2 774.7 165.1 775 164.8 775"/>
<path d="M171.4 781.6 L162.1 789.8"/>
<path d="M169.8 779.7 L160.4 788"/>
<path d="M171.4 781.6 C171.5 781.3 171.8 780.2 171.5 779.9 C171.2 779.5 170.1 779.7 169.8 779.7"/>
<path d="M176 786.7 L165.6 795.2"/>
<path d="M174.5 784.8 L164 793.3"/>
<path d="M176 786.7 C176.1 786.4 176.4 785.3 176.2 785 C175.9 784.7 174.7 784.8 174.5 784.8"/>
<path d="M179.7 792.5 L168.9 800.7"/>
<path d="M178.2 790.5 L167.8 798.4"/>
<path d="M179.7 792.5 C179.8 792.3 180.2 791.2 180 790.8 C179.7 790.5 178.5 790.6 178.2 790.5"/>
<path d="M183.1 798.6 L172 806.3"/>
<path d="M181.7 796.5 L171 803.9"/>
<path d="M183.1 798.6 C183.1 798.3 183.6 797.2 183.4 796.9 C183.1 796.5 182 796.6 181.7 796.5"/>
<path d="M186 804.9 L174.6 812.1"/>
<path d="M184.6 802.7 L173.7 809.7"/>
<path d="M186 804.9 C186 804.6 186.5 803.5 186.3 803.2 C186.1 802.8 184.9 802.8 184.6 802.7"/>
<path d="M187.8 811.5 L176.1 818.3"/>
<path d="M186.5 809.4 L175.7 815.7"/>
<path d="M187.8 811.5 C187.9 811.2 188.4 810.2 188.2 809.8 C188 809.5 186.8 809.4 186.5 809.4"/>
<path d="M188.5 818.4 L176.6 824.7"/>
<path d="M187.3 816.2 L176.8 821.8"/>
<path d="M188.5 818.4 C188.6 818.1 189.2 817.1 189 816.7 C188.8 816.3 187.6 816.3 187.3 816.2"/>
<path d="M187.6 825.2 L176.4 830.7"/>
<path d="M186.5 823 L175.3 828.4"/>
<path d="M187.6 825.2 C187.7 825 188.3 824 188.2 823.6 C188 823.2 186.8 823.1 186.5 823"/>
<path d="M184.9 831.6 L174.8 836"/>
<path d="M183.9 829.3 L173.8 833.7"/>
<path d="M184.9 831.6 C185 831.3 185.7 830.4 185.5 830 C185.3 829.6 184.2 829.4 183.9 829.3"/>
<path d="M180.6 837.1 L172.2 840.3"/>
<path d="M179.7 834.7 L171.3 838"/>
<path d="M180.6 837.1 C180.7 836.8 181.4 835.8 181.3 835.5 C181.1 835.1 179.9 834.8 179.7 834.7"/>
<path d="M175 841.1 L168.4 843.4"/>
<path d="M174.1 838.7 L167.5 841"/>
<path d="M175 841.1 C175.1 840.8 175.8 839.9 175.7 839.5 C175.5 839.1 174.4 838.9 174.1 838.7"/>
<path d="M168.5 843.8 L165.2 844.8"/>
<path d="M167.8 841.4 L164.5 842.4"/>
<path d="M168.5 843.8 C168.7 843.5 169.4 842.6 169.3 842.2 C169.2 841.8 168.1 841.5 167.8 841.4"/>
<path d="M130.1 780.7 L126.6 779.5 L126.2 780.8 L128.4 785.4 L125.1 785 L124.8 786.3 L127.8 790.4 L124.1 790.6 L124.1 792 L128.2 795.4 L124.7 796.2 L125.1 797.5 L129.5 800.2 L126.2 801.7 L126.6 803 L131.1 805 L127.8 807.2 L128.2 808.5 L132.9 809.7 L129.5 812.6 L130 813.8 L135 814.2 L131.8 817.8 L132.3 819 L137.4 818.7 L134.3 822.9 L135 824 L140.1 822.9 L137.6 827.5 L138.5 828.5 L143.3 826.8 L141.2 831.8 L142.2 832.8 L146.8 830.4 L145.6 835.5 L146.7 836.3 L150.7 833.6 L150.2 838.8 L151.3 839.5 L154.8 836.5 L155.1 841.5 L156.4 842.1 L159.4 838.7 L160.4 843.5 L161.7 844 L164.2 839.7"/>
<path d="M133 785.3 C133 786.1 132.6 788 132.8 789.9 C133 791.8 133.5 794.4 134.2 796.8 C134.9 799.2 136 802 137.1 804.5 C138.2 807 139.6 809.6 141 812.1 C142.4 814.5 143.9 816.9 145.6 819.2 C147.3 821.5 149.4 823.7 151.4 825.7 C153.4 827.7 155.7 829.8 157.8 831.3 C159.9 832.8 162.9 833.9 163.9 834.4"/>
<path d="M135.2 788.4 C135.4 789.5 135.9 792.9 136.6 795.3 C137.3 797.7 138.4 800.5 139.5 803 C140.6 805.5 142 808.1 143.4 810.6 C144.8 813 146.3 815.4 148 817.7 C149.7 820 151.8 822.2 153.8 824.2 C155.8 826.2 159.1 828.9 160.2 829.8"/>
<path d="M161.9 821.5 C161.1 821.9 160.1 822.2 159.2 822.3 C158.2 822.4 157.2 822.4 156.1 822.1 C155.1 821.9 154 821.5 152.9 820.9 C151.9 820.3 150.8 819.6 149.8 818.7 C148.9 817.9 147.9 816.9 147.1 815.8 C146.2 814.7 145.4 813.5 144.8 812.3 C144.1 811 143.5 809.7 143.1 808.4 C142.7 807.1 142.4 805.7 142.2 804.4 C142.1 803.2 142.1 801.9 142.2 800.7 C142.3 799.5 142.6 798.3 142.9 797.3 C143.3 796.4 143.9 795.4 144.5 794.7 C145.1 794 145.9 793.3 146.7 792.9 C147.5 792.5 148.5 792.2 149.4 792.1 C150.4 792 151.4 792 152.5 792.3 C153.5 792.5 154.6 792.9 155.7 793.5 C156.7 794.1 157.8 794.8 158.8 795.7 C159.7 796.5 160.7 797.5 161.5 798.6 C162.4 799.7 163.2 800.9 163.8 802.1 C164.5 803.4 165.1 804.7 165.5 806 C165.9 807.3 166.2 808.7 166.4 810 C166.5 811.2 166.5 812.5 166.4 813.7 C166.3 814.9 166 816.1 165.7 817.1 C165.3 818 164.7 819 164.1 819.7 C163.5 820.4 162.7 821.1 161.9 821.5Z"/>
<path d="M144.5 797.5 C145.4 797 148.1 794.4 150 794.2 C151.9 794 154.1 795 156 796.5 C157.9 798 160.1 801 161.5 803.5 C162.9 806 164.3 809.2 164.6 811.5 C164.9 813.8 163.7 816.5 163.5 817.5"/>
<path d="M155.8 814.8 C155.4 814.9 155 815 154.6 815 C154.1 815 153.7 814.9 153.2 814.7 C152.7 814.5 152.2 814.2 151.7 813.8 C151.3 813.4 150.8 813 150.3 812.5 C149.9 812 149.4 811.4 149.1 810.8 C148.7 810.2 148.3 809.5 148 808.8 C147.7 808.1 147.4 807.4 147.2 806.7 C147.1 806 146.9 805.3 146.8 804.6 C146.8 804 146.7 803.3 146.8 802.7 C146.8 802.1 147 801.5 147.1 801.1 C147.3 800.6 147.5 800.1 147.8 799.8 C148.1 799.5 148.4 799.2 148.8 799 C149.2 798.9 149.6 798.8 150 798.8 C150.5 798.8 150.9 798.9 151.4 799.1 C151.9 799.3 152.4 799.6 152.9 800 C153.3 800.4 153.8 800.8 154.3 801.3 C154.7 801.8 155.2 802.4 155.5 803 C155.9 803.6 156.3 804.3 156.6 805 C156.9 805.7 157.2 806.4 157.4 807.1 C157.5 807.8 157.7 808.5 157.8 809.2 C157.8 809.8 157.9 810.5 157.8 811.1 C157.8 811.7 157.6 812.3 157.5 812.7 C157.3 813.2 157.1 813.7 156.8 814 C156.5 814.3 156.2 814.6 155.8 814.8Z"/>
<path d="M143.1 785.2 C143.3 785.5 143.4 785.7 143.5 786 C143.6 786.3 143.7 786.5 143.8 786.8 C143.8 787.1 143.8 787.3 143.8 787.6 C143.8 787.8 143.8 788 143.7 788.2 C143.7 788.5 143.6 788.6 143.5 788.8 C143.4 788.9 143.2 789.1 143.1 789.1 C143 789.2 142.8 789.3 142.6 789.3 C142.4 789.3 142.2 789.3 142 789.2 C141.8 789.2 141.6 789.1 141.4 789 C141.2 788.9 141 788.7 140.8 788.5 C140.5 788.4 140.3 788.2 140.2 787.9 C140 787.7 139.8 787.5 139.7 787.2 C139.5 786.9 139.4 786.7 139.3 786.4 C139.2 786.1 139.1 785.9 139.1 785.6 C139 785.3 139 785.1 139 784.8 C139 784.6 139 784.4 139.1 784.2 C139.1 783.9 139.2 783.8 139.3 783.6 C139.4 783.5 139.6 783.3 139.7 783.3 C139.8 783.2 140 783.1 140.2 783.1 C140.4 783.1 140.6 783.1 140.8 783.2 C141 783.2 141.2 783.3 141.4 783.4 C141.6 783.5 141.8 783.7 142.1 783.9 C142.3 784 142.5 784.2 142.6 784.5 C142.8 784.7 143 784.9 143.1 785.2Z"/>
<path d="M143.2 786.3 C143.3 786.5 143.4 786.7 143.4 786.9 C143.5 787 143.6 787.2 143.6 787.4 C143.7 787.5 143.7 787.7 143.7 787.8 C143.7 788 143.8 788.1 143.7 788.2 C143.7 788.3 143.7 788.4 143.7 788.5 C143.6 788.6 143.6 788.7 143.5 788.7 C143.4 788.7 143.4 788.8 143.3 788.8 C143.2 788.8 143.1 788.7 143 788.7 C142.9 788.6 142.7 788.6 142.6 788.5 C142.5 788.4 142.4 788.3 142.3 788.1 C142.2 788 142 787.9 141.9 787.7 C141.8 787.6 141.7 787.4 141.6 787.2 C141.5 787.1 141.4 786.9 141.4 786.7 C141.3 786.6 141.2 786.4 141.2 786.2 C141.1 786.1 141.1 785.9 141.1 785.8 C141.1 785.6 141 785.5 141.1 785.4 C141.1 785.3 141.1 785.2 141.1 785.1 C141.2 785 141.2 784.9 141.3 784.9 C141.4 784.9 141.4 784.8 141.5 784.8 C141.6 784.8 141.7 784.9 141.8 784.9 C141.9 785 142.1 785 142.2 785.1 C142.3 785.2 142.4 785.3 142.5 785.5 C142.6 785.6 142.8 785.7 142.9 785.9 C143 786 143.1 786.2 143.2 786.3Z"/>
<path d="M142.5 803.9 C142.6 804.1 142.7 804.3 142.8 804.5 C142.8 804.7 142.9 805 142.9 805.2 C142.9 805.4 142.9 805.6 142.9 805.8 C142.8 806 142.8 806.2 142.7 806.4 C142.6 806.6 142.5 806.7 142.3 806.9 C142.2 807 142.1 807.2 141.9 807.3 C141.7 807.3 141.6 807.4 141.4 807.5 C141.2 807.5 141 807.5 140.8 807.5 C140.6 807.5 140.4 807.4 140.2 807.4 C140 807.3 139.8 807.2 139.6 807.1 C139.4 807 139.2 806.8 139.1 806.6 C138.9 806.5 138.8 806.3 138.7 806.1 C138.6 805.9 138.5 805.7 138.4 805.5 C138.4 805.3 138.3 805 138.3 804.8 C138.3 804.6 138.3 804.4 138.3 804.2 C138.4 804 138.4 803.8 138.5 803.6 C138.6 803.4 138.7 803.3 138.9 803.1 C139 803 139.1 802.8 139.3 802.7 C139.5 802.7 139.6 802.6 139.8 802.5 C140 802.5 140.2 802.5 140.4 802.5 C140.6 802.5 140.8 802.6 141 802.6 C141.2 802.7 141.4 802.8 141.6 802.9 C141.8 803 142 803.2 142.1 803.4 C142.3 803.5 142.4 803.7 142.5 803.9Z"/>
<path d="M159.2 825.6 C159.2 825.7 159.1 825.9 158.9 826.1 C158.8 826.2 158.7 826.3 158.5 826.5 C158.3 826.6 158.1 826.7 157.9 826.7 C157.7 826.8 157.5 826.9 157.3 826.9 C157 826.9 156.8 826.9 156.6 826.8 C156.3 826.8 156.1 826.7 155.8 826.7 C155.6 826.6 155.4 826.5 155.2 826.3 C155 826.2 154.8 826.1 154.6 825.9 C154.5 825.8 154.3 825.6 154.2 825.4 C154.1 825.2 154 825 153.9 824.8 C153.9 824.6 153.9 824.4 153.9 824.2 C153.9 824 153.9 823.8 154 823.6 C154 823.5 154.1 823.3 154.3 823.1 C154.4 823 154.5 822.9 154.7 822.7 C154.9 822.6 155.1 822.5 155.3 822.5 C155.5 822.4 155.7 822.3 155.9 822.3 C156.2 822.3 156.4 822.3 156.6 822.4 C156.9 822.4 157.1 822.5 157.4 822.5 C157.6 822.6 157.8 822.7 158 822.9 C158.2 823 158.4 823.1 158.6 823.3 C158.7 823.4 158.9 823.6 159 823.8 C159.1 824 159.2 824.2 159.3 824.4 C159.3 824.6 159.3 824.8 159.3 825 C159.3 825.2 159.3 825.4 159.2 825.6Z"/>
<path d="M170.3 820.3 C170.4 820.5 170.6 820.7 170.7 821 C170.8 821.2 170.9 821.4 171 821.7 C171.1 821.9 171.2 822.1 171.3 822.3 C171.3 822.5 171.3 822.7 171.3 822.9 C171.3 823.1 171.3 823.2 171.2 823.3 C171.2 823.5 171.1 823.6 171 823.6 C170.9 823.7 170.8 823.7 170.7 823.7 C170.6 823.7 170.4 823.7 170.3 823.6 C170.1 823.6 169.9 823.5 169.7 823.4 C169.6 823.3 169.4 823.1 169.2 823 C169 822.8 168.8 822.6 168.6 822.4 C168.5 822.2 168.3 822 168.1 821.7 C168 821.5 167.8 821.3 167.7 821 C167.6 820.8 167.5 820.6 167.4 820.3 C167.3 820.1 167.2 819.9 167.1 819.7 C167.1 819.5 167.1 819.3 167.1 819.1 C167.1 818.9 167.1 818.8 167.2 818.7 C167.2 818.5 167.3 818.4 167.4 818.4 C167.5 818.3 167.6 818.3 167.7 818.3 C167.8 818.3 168 818.3 168.1 818.4 C168.3 818.4 168.5 818.5 168.7 818.6 C168.8 818.7 169 818.9 169.2 819 C169.4 819.2 169.6 819.4 169.8 819.6 C169.9 819.8 170.1 820 170.3 820.3Z"/>
<path d="M169.1 819.8 C169.2 819.8 169.3 819.7 169.4 819.7 C169.4 819.7 169.5 819.8 169.6 819.8 C169.7 819.9 169.9 819.9 170 820 C170.1 820.1 170.2 820.2 170.3 820.3 C170.5 820.4 170.6 820.6 170.7 820.7 C170.8 820.8 170.9 821 171.1 821.1 C171.2 821.3 171.3 821.5 171.4 821.6 C171.5 821.8 171.5 821.9 171.6 822.1 C171.7 822.3 171.7 822.4 171.8 822.5 C171.8 822.7 171.8 822.8 171.8 822.9 C171.8 823 171.8 823.1 171.8 823.2 C171.8 823.3 171.7 823.4 171.7 823.4"/>
<path d="M153.7 785 C153.8 785 153.9 784.9 154 784.9 C154.1 785 154.3 785 154.4 785.1 C154.5 785.2 154.6 785.3 154.8 785.4 C154.9 785.5 155 785.7 155.1 785.8 C155.2 786 155.4 786.2 155.5 786.4 C155.6 786.6 155.7 786.8 155.7 787 C155.8 787.2 155.9 787.4 155.9 787.6 C156 787.8 156 788.1 156 788.3 C156 788.5 156 788.7 156 788.8 C156 789 156 789.2 155.9 789.3 C155.9 789.4 155.8 789.6 155.8 789.7 C155.7 789.7 155.6 789.8 155.5 789.8 C155.4 789.9 155.3 789.9 155.2 789.9 C155.1 789.8 154.9 789.7 154.8 789.7"/>
<path d="M163.5 844 L168.6 878"/>
<path d="M165 904.2 L168 904.2"/>
<path d="M209.5 775.6 L212.2 772.2 L216.9 770.4 L220.3 772.8 L222.4 778.3 L221.7 781.7 L216.3 785.7 L212.2 783.7 L209.8 780.3 L209.5 775.6"/>
<path d="M212.2 772.2 C212.6 772.8 214.1 774.5 214.8 776 C215.5 777.5 216.1 779.4 216.3 781 C216.6 782.6 216.3 784.9 216.3 785.7"/>
<path d="M216.9 770.4 C217.3 771.1 218.8 773.1 219.5 774.5 C220.2 775.9 220.6 777.7 220.8 779 C221.1 780.3 221 781.8 221 782.3"/>
<path d="M220.3 772.8 L234.6 764"/>
<path d="M222.4 779.6 L237.3 770.8"/>
<path d="M237.9 766.2 C238 766.5 238.2 766.8 238.3 767.1 C238.4 767.3 238.5 767.6 238.5 767.9 C238.6 768.2 238.6 768.4 238.7 768.7 C238.7 768.9 238.7 769.2 238.6 769.4 C238.6 769.6 238.5 769.7 238.4 769.9 C238.3 770 238.2 770.1 238.1 770.2 C238 770.2 237.8 770.3 237.6 770.3 C237.5 770.3 237.3 770.2 237.1 770.2 C236.9 770.1 236.7 770 236.5 769.8 C236.3 769.7 236.1 769.5 235.9 769.3 C235.8 769.1 235.6 768.8 235.4 768.6 C235.2 768.3 235 768.1 234.9 767.8 C234.8 767.5 234.6 767.2 234.5 766.9 C234.4 766.7 234.3 766.4 234.3 766.1 C234.2 765.8 234.2 765.6 234.1 765.3 C234.1 765.1 234.1 764.8 234.2 764.6 C234.2 764.4 234.3 764.3 234.4 764.1 C234.5 764 234.6 763.9 234.7 763.8 C234.8 763.8 235 763.7 235.2 763.7 C235.3 763.7 235.5 763.8 235.7 763.8 C235.9 763.9 236.1 764 236.3 764.2 C236.5 764.3 236.7 764.5 236.9 764.7 C237 764.9 237.2 765.2 237.4 765.4 C237.6 765.7 237.8 765.9 237.9 766.2Z"/>
<path d="M231.2 765.9 C231.3 765.9 231.5 765.9 231.7 766 C231.9 766 232.1 766.1 232.3 766.3 C232.5 766.4 232.7 766.5 232.9 766.7 C233.1 766.9 233.3 767.1 233.4 767.4 C233.6 767.6 233.8 767.9 233.9 768.1 C234.1 768.4 234.3 768.7 234.4 769 C234.5 769.2 234.6 769.5 234.7 769.8 C234.8 770.1 234.8 770.4 234.8 770.6 C234.9 770.9 234.9 771.1 234.8 771.3 C234.8 771.6 234.8 771.8 234.7 771.9 C234.6 772.1 234.5 772.2 234.4 772.3 C234.3 772.4 234.1 772.4 234 772.5"/>
<path d="M228.2 767.7 C228.3 767.7 228.5 767.7 228.7 767.8 C228.9 767.8 229.1 767.9 229.3 768.1 C229.5 768.2 229.7 768.3 229.9 768.5 C230.1 768.7 230.3 768.9 230.4 769.2 C230.6 769.4 230.8 769.7 230.9 769.9 C231.1 770.2 231.3 770.5 231.4 770.8 C231.5 771 231.6 771.3 231.7 771.6 C231.8 771.9 231.8 772.2 231.8 772.4 C231.9 772.7 231.9 772.9 231.8 773.1 C231.8 773.4 231.8 773.6 231.7 773.7 C231.6 773.9 231.5 774 231.4 774.1 C231.3 774.2 231.1 774.2 231 774.3"/>
<path d="M225.2 769.5 C225.3 769.5 225.5 769.5 225.7 769.6 C225.9 769.6 226.1 769.7 226.3 769.9 C226.5 770 226.7 770.1 226.9 770.3 C227.1 770.5 227.3 770.7 227.4 771 C227.6 771.2 227.8 771.5 227.9 771.7 C228.1 772 228.3 772.3 228.4 772.6 C228.5 772.8 228.6 773.1 228.7 773.4 C228.8 773.7 228.8 774 228.8 774.2 C228.9 774.5 228.9 774.7 228.8 774.9 C228.8 775.2 228.8 775.4 228.7 775.5 C228.6 775.7 228.5 775.8 228.4 775.9 C228.3 776 228.1 776 228 776.1"/>
<path d="M228.5 774.2 L244 832.7"/>
<path d="M244 858 L246.6 858"/>
<path d="M239.3 764.7 L258.3 754.6"/>
<path d="M253.5 734.9 C253.6 732.6 253.4 732.5 254.2 731.5 C255 730.5 256.3 729.5 258.3 728.8 C260.3 728.1 263.8 727.8 266.4 727.5 C269 727.2 272.1 726.5 273.8 727 C275.5 727.5 275.9 728.9 276.6 730.2 C277.3 731.5 277.8 732.6 277.9 734.9 C278 737.2 277.6 741.2 277.5 744 C277.4 746.8 277.7 749.9 277.2 751.8 C276.7 753.7 276.5 754.5 274.5 755.5 C272.5 756.5 267.9 757.2 265 757.7 C262.1 758.2 258.7 758.9 256.9 758.6 C255.1 758.3 254.8 758.2 254.2 755.9 C253.6 753.6 253.7 748.5 253.6 745 C253.5 741.5 253.4 737.1 253.5 734.9Z"/>
<path d="M269.5 751.2 C269.1 751.5 268.6 751.6 268.1 751.7 C267.6 751.7 267 751.6 266.5 751.5 C265.9 751.4 265.4 751.1 264.8 750.8 C264.2 750.5 263.7 750 263.1 749.6 C262.6 749.1 262.1 748.5 261.6 747.9 C261.2 747.3 260.7 746.6 260.4 745.9 C260 745.2 259.7 744.5 259.4 743.8 C259.2 743.1 259 742.3 258.9 741.6 C258.8 740.9 258.8 740.2 258.8 739.5 C258.9 738.9 259 738.3 259.2 737.7 C259.4 737.2 259.6 736.7 259.9 736.3 C260.3 735.9 260.6 735.6 261.1 735.4 C261.5 735.1 262 735 262.5 734.9 C263 734.9 263.6 735 264.1 735.1 C264.7 735.2 265.2 735.5 265.8 735.8 C266.4 736.1 266.9 736.6 267.5 737 C268 737.5 268.5 738.1 269 738.7 C269.4 739.3 269.9 740 270.2 740.7 C270.6 741.4 270.9 742.1 271.2 742.8 C271.4 743.5 271.6 744.3 271.7 745 C271.8 745.7 271.8 746.4 271.8 747.1 C271.7 747.7 271.6 748.3 271.4 748.9 C271.2 749.4 271 749.9 270.7 750.3 C270.3 750.7 270 751 269.5 751.2Z"/>
<path d="M273.7 732.8 C273.8 732.9 273.8 733.1 273.9 733.3 C273.9 733.4 273.9 733.6 273.9 733.7 C273.9 733.9 273.9 734 273.9 734.2 C273.8 734.3 273.8 734.4 273.7 734.5 C273.7 734.6 273.6 734.7 273.5 734.8 C273.4 734.9 273.3 735 273.2 735 C273.2 735 273 735 272.9 735 C272.8 735 272.7 735 272.6 735 C272.5 734.9 272.4 734.8 272.3 734.8 C272.2 734.7 272 734.6 271.9 734.4 C271.9 734.3 271.8 734.2 271.7 734.1 C271.6 733.9 271.5 733.8 271.5 733.6 C271.4 733.5 271.4 733.3 271.3 733.1 C271.3 733 271.3 732.8 271.3 732.7 C271.3 732.5 271.3 732.4 271.3 732.2 C271.4 732.1 271.4 732 271.5 731.9 C271.5 731.8 271.6 731.7 271.7 731.6 C271.8 731.5 271.9 731.4 272 731.4 C272 731.4 272.2 731.4 272.3 731.4 C272.4 731.4 272.5 731.4 272.6 731.4 C272.7 731.5 272.8 731.6 272.9 731.6 C273 731.7 273.2 731.8 273.3 732 C273.3 732.1 273.4 732.2 273.5 732.3 C273.6 732.5 273.7 732.6 273.7 732.8Z"/>
<path d="M259.8 752.6 C259.9 752.7 259.9 752.9 260 753.1 C260 753.2 260 753.4 260 753.5 C260 753.7 260 753.8 260 754 C259.9 754.1 259.9 754.2 259.8 754.3 C259.8 754.4 259.7 754.5 259.6 754.6 C259.5 754.7 259.4 754.8 259.3 754.8 C259.3 754.8 259.1 754.8 259 754.8 C258.9 754.8 258.8 754.8 258.7 754.8 C258.6 754.7 258.5 754.6 258.4 754.6 C258.3 754.5 258.1 754.4 258 754.2 C258 754.1 257.9 754 257.8 753.9 C257.7 753.7 257.6 753.6 257.6 753.4 C257.5 753.3 257.5 753.1 257.4 752.9 C257.4 752.8 257.4 752.6 257.4 752.5 C257.4 752.3 257.4 752.2 257.4 752 C257.5 751.9 257.5 751.8 257.6 751.7 C257.6 751.6 257.7 751.5 257.8 751.4 C257.9 751.3 258 751.2 258.1 751.2 C258.1 751.2 258.3 751.2 258.4 751.2 C258.5 751.2 258.6 751.2 258.7 751.2 C258.8 751.3 258.9 751.4 259 751.4 C259.1 751.5 259.3 751.6 259.4 751.8 C259.4 751.9 259.5 752 259.6 752.1 C259.7 752.3 259.8 752.4 259.8 752.6Z"/>
<path d="M269.1 757.9 L291.5 803.3"/>
<path d="M293.1 829.4 L299.1 829.4"/>
<path d="M221.8 488.1 L223.7 489.5"/>
<path d="M220.9 490.9 L222.3 492.4"/>
<path d="M228.5 490.5 C228.3 491.1 228.1 493 227 494.3 C225.9 495.6 222.7 497.5 221.8 498.1"/>
<path d="M236 487.2 L236 493.3"/>
<path d="M239.4 487.2 C239.4 488.5 239.7 493 239.4 494.8 C239.2 496.6 238.2 497.5 237.9 498.1"/>
<path d="M247 489.1 L249.3 491"/>
<path d="M254.6 491 C254.3 491.6 253.7 493.6 252.6 494.8 C251.5 496 248.7 497.5 247.9 498.1"/>
<path d="M263.1 486.7 C262.8 487.3 261.8 489.5 261.2 490.5 C260.6 491.5 259.6 492.5 259.3 492.9"/>
<path d="M263.1 488.6 L266.9 488.6"/>
<path d="M266.9 488.6 C266.7 489.4 266.7 491.7 265.5 493.3 C264.3 494.9 260.7 497.3 259.8 498.1"/>
<path d="M261.7 491.9 L264 493.1"/>
<path d="M267.1 485.9 L267.8 486.6"/>
<path d="M268.6 485.5 L269.3 486.2"/>
<path d="M273.1 489.1 L279.7 489.1"/>
<path d="M279.7 489.1 C279.5 489.8 279.2 491.8 278.3 493.3 C277.4 494.8 274.7 497.3 274 498.1"/>
<path d="M280.9 485.9 L281.6 486.6"/>
<path d="M282.4 485.5 L283.1 486.2"/>
<path d="M285.8 489.1 L292.5 489.1 L292.5 497.1 L285.8 497.1 L285.8 489.1"/>
<path d="M299.1 491 L300 492.4"/>
<path d="M301.9 490.5 L302.9 491.9"/>
<path d="M305.7 491 C305.5 491.6 305.1 493.6 304.3 494.8 C303.5 496 301.5 497.5 301 498.1"/>
<path d="M313.8 486.7 C313.6 487.3 312.9 489.1 312.4 490 C311.9 491 311.2 492 311 492.4"/>
<path d="M313.8 488.6 L318.1 488.6"/>
<path d="M318.1 488.6 C317.8 489.4 317.8 491.7 316.6 493.3 C315.4 494.9 311.9 497.3 311 498.1"/>
<path d="M327.6 486.2 L325.7 488.6 L330 488.6"/>
<path d="M329.2 487.4 L330.4 488.9"/>
<path d="M323.8 490.5 L331.8 490.5"/>
<path d="M327.6 488.6 L324.3 493.3"/>
<path d="M328 490.5 L331.8 493.3"/>
<path d="M329 492.4 L325.7 494.8"/>
<path d="M329.9 494.3 L325.2 497.1"/>
<path d="M330.9 496.2 L326.1 498.6"/>
<path d="M337.1 486.7 L339.9 486.7 L339.9 493.3 L337.1 493.3 L337.1 486.7"/>
<path d="M337.1 490 L339.9 490"/>
<path d="M341.3 486.7 L344.6 486.7 L344.6 489.3 L343.4 489.7"/>
<path d="M342.8 486.7 L341.3 489.7"/>
<path d="M341.5 490.9 L344.6 490.9 L344.6 493.9 L341.5 493.9 L341.5 490.9"/>
<path d="M337.1 496.5 L336.8 497.7"/>
<path d="M339.4 496.5 L339.4 497.7"/>
<path d="M341.8 496.5 L342 497.7"/>
<path d="M344.2 496.5 L344.8 497.7"/>
</g>
<g fill="#000" stroke="none">
<polygon points="94.8,239.8 79.3,244.7 82.6,249.6"/>
<polygon points="398.5,439 383.3,444.4 386,448.6"/>
<polygon points="714.4,485 698.3,488.6 701,495.3"/>
</g>
<defs><filter id="th" x="-5%" y="-5%" width="110%" height="110%" color-interpolation-filters="sRGB"><feComponentTransfer><feFuncA type="discrete" tableValues="0 0 1 1 1"/></feComponentTransfer></filter></defs>
<g filter="url(#th)">
<text transform="translate(190.6,513) scale(0.84,1)" x="0" y="0" font-size="13.2" textLength="214.5" lengthAdjust="spacing" style="font-family:'Liberation Mono',monospace">See of Cylinder Block</text>
<text transform="translate(669.4,941.9) scale(0.84,1)" x="0" y="0" font-size="13.2" textLength="84.4" lengthAdjust="spacing" style="font-family:'Liberation Mono',monospace">PJ6B486</text>
<text transform="translate(42.4,272.0) scale(0.82,1)" font-size="24.8">a</text>
<text transform="translate(720.8,483.7) scale(0.82,1)" font-size="25.4">a</text>
</g>
</svg>
</body></html>
